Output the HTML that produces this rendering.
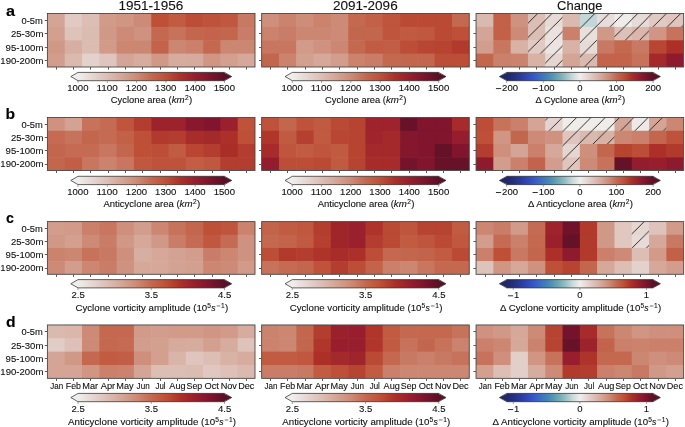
<!DOCTYPE html>
<html><head><meta charset="utf-8"><title>Figure</title><style>html,body{margin:0;padding:0;background:#fff;width:685px;height:427px;overflow:hidden}svg{display:block;will-change:transform}</style></head><body>
<svg width="685" height="427" viewBox="0 0 685 427">
<defs>
<linearGradient id="g_amp" x1="0" x2="1" y1="0" y2="0">
<stop offset="0.000" stop-color="#f0eeec"/>
<stop offset="0.025" stop-color="#ede8e6"/>
<stop offset="0.050" stop-color="#eae2df"/>
<stop offset="0.075" stop-color="#e8dcd8"/>
<stop offset="0.100" stop-color="#e5d6d2"/>
<stop offset="0.125" stop-color="#e3d0ca"/>
<stop offset="0.150" stop-color="#e0cac3"/>
<stop offset="0.175" stop-color="#dec4bc"/>
<stop offset="0.200" stop-color="#dcbeb4"/>
<stop offset="0.225" stop-color="#dab8ac"/>
<stop offset="0.250" stop-color="#d8b2a5"/>
<stop offset="0.275" stop-color="#d6ab9e"/>
<stop offset="0.300" stop-color="#d4a596"/>
<stop offset="0.325" stop-color="#d29e8e"/>
<stop offset="0.350" stop-color="#d09886"/>
<stop offset="0.375" stop-color="#cf917e"/>
<stop offset="0.400" stop-color="#cd8a76"/>
<stop offset="0.425" stop-color="#cb826d"/>
<stop offset="0.450" stop-color="#c87963"/>
<stop offset="0.475" stop-color="#c6715a"/>
<stop offset="0.500" stop-color="#c46850"/>
<stop offset="0.525" stop-color="#c2624a"/>
<stop offset="0.550" stop-color="#c15c43"/>
<stop offset="0.575" stop-color="#c0563d"/>
<stop offset="0.600" stop-color="#be5037"/>
<stop offset="0.625" stop-color="#ba4833"/>
<stop offset="0.650" stop-color="#b5402f"/>
<stop offset="0.675" stop-color="#b0382c"/>
<stop offset="0.700" stop-color="#ac3028"/>
<stop offset="0.725" stop-color="#a72c29"/>
<stop offset="0.750" stop-color="#a2272a"/>
<stop offset="0.775" stop-color="#9d222c"/>
<stop offset="0.800" stop-color="#981e2d"/>
<stop offset="0.825" stop-color="#911c2d"/>
<stop offset="0.850" stop-color="#8a192d"/>
<stop offset="0.875" stop-color="#84172d"/>
<stop offset="0.900" stop-color="#7d142d"/>
<stop offset="0.925" stop-color="#74132b"/>
<stop offset="0.950" stop-color="#6c122a"/>
<stop offset="0.975" stop-color="#631128"/>
<stop offset="1.000" stop-color="#5a1026"/>
</linearGradient>
<linearGradient id="g_bal" x1="0" x2="1" y1="0" y2="0">
<stop offset="0.000" stop-color="#202869"/>
<stop offset="0.025" stop-color="#222c74"/>
<stop offset="0.050" stop-color="#253080"/>
<stop offset="0.075" stop-color="#28368e"/>
<stop offset="0.100" stop-color="#2b3c9e"/>
<stop offset="0.125" stop-color="#2e43ae"/>
<stop offset="0.150" stop-color="#314bbc"/>
<stop offset="0.175" stop-color="#3554c8"/>
<stop offset="0.200" stop-color="#3760c6"/>
<stop offset="0.225" stop-color="#3a6cc4"/>
<stop offset="0.250" stop-color="#3f77be"/>
<stop offset="0.275" stop-color="#4382b7"/>
<stop offset="0.300" stop-color="#4e8eb5"/>
<stop offset="0.325" stop-color="#5a9bb3"/>
<stop offset="0.350" stop-color="#6ba7b5"/>
<stop offset="0.375" stop-color="#80b2bb"/>
<stop offset="0.400" stop-color="#96bec3"/>
<stop offset="0.425" stop-color="#afccce"/>
<stop offset="0.450" stop-color="#c8dada"/>
<stop offset="0.475" stop-color="#dce4e3"/>
<stop offset="0.500" stop-color="#f0eeec"/>
<stop offset="0.525" stop-color="#eae2df"/>
<stop offset="0.550" stop-color="#e5d6d2"/>
<stop offset="0.575" stop-color="#e0cac3"/>
<stop offset="0.600" stop-color="#dcbeb4"/>
<stop offset="0.625" stop-color="#d8b2a5"/>
<stop offset="0.650" stop-color="#d4a596"/>
<stop offset="0.675" stop-color="#d09786"/>
<stop offset="0.700" stop-color="#cd8a76"/>
<stop offset="0.725" stop-color="#c87963"/>
<stop offset="0.750" stop-color="#c46850"/>
<stop offset="0.775" stop-color="#c15c43"/>
<stop offset="0.800" stop-color="#be5037"/>
<stop offset="0.825" stop-color="#b54030"/>
<stop offset="0.850" stop-color="#ac3028"/>
<stop offset="0.875" stop-color="#a2272a"/>
<stop offset="0.900" stop-color="#981e2d"/>
<stop offset="0.925" stop-color="#8a192d"/>
<stop offset="0.950" stop-color="#7d142d"/>
<stop offset="0.975" stop-color="#6c122a"/>
<stop offset="1.000" stop-color="#5a1026"/>
</linearGradient>
<pattern id="hp" patternUnits="userSpaceOnUse" width="14.3" height="14.3" patternTransform="translate(7.80,0)">
<path d="M-2,2 L2,-2 M0,14.3 L14.3,0 M12.3,16.3 L16.3,12.3" stroke="#262626" stroke-width="0.95" fill="none"/>
</pattern>
</defs>
<style>text{font-family:"Liberation Sans",sans-serif;font-size:8.57px;fill:#111;stroke:#111;stroke-width:0.1px}.tk{stroke:#5a5a5a;stroke-width:1}.tc{stroke:#777;stroke-width:0.7}</style>
<rect width="685" height="427" fill="#fff"/>
<text x="118.49" y="9.95" textLength="64.74" lengthAdjust="spacingAndGlyphs" style="font-size:12.26px;">1951-1956</text>
<text x="332.96" y="9.95" textLength="64.74" lengthAdjust="spacingAndGlyphs" style="font-size:12.26px;">2091-2096</text>
<text x="557.05" y="9.95" textLength="45.48" lengthAdjust="spacingAndGlyphs" style="font-size:12.26px;">Change</text>
<text x="6.02" y="15.60" textLength="9.04" lengthAdjust="spacingAndGlyphs" style="font-weight:bold;font-size:13.80px;fill:#000;">a</text>
<text x="5.47" y="119.20" textLength="9.59" lengthAdjust="spacingAndGlyphs" style="font-weight:bold;font-size:13.80px;fill:#000;">b</text>
<text x="6.02" y="223.20" textLength="7.94" lengthAdjust="spacingAndGlyphs" style="font-weight:bold;font-size:13.80px;fill:#000;">c</text>
<text x="6.00" y="327.00" textLength="9.59" lengthAdjust="spacingAndGlyphs" style="font-weight:bold;font-size:13.80px;fill:#000;">d</text>
<rect x="47.40" y="13.50" width="17.90" height="13.97" fill="#d4a596"/>
<rect x="64.70" y="13.50" width="17.90" height="13.97" fill="#e0cac3"/>
<rect x="82.00" y="13.50" width="17.90" height="13.97" fill="#dcbeb4"/>
<rect x="99.30" y="13.50" width="17.90" height="13.97" fill="#d19a89"/>
<rect x="116.60" y="13.50" width="17.90" height="13.97" fill="#d09583"/>
<rect x="133.90" y="13.50" width="17.90" height="13.97" fill="#cd8a76"/>
<rect x="151.20" y="13.50" width="17.90" height="13.97" fill="#be5037"/>
<rect x="168.50" y="13.50" width="17.90" height="13.97" fill="#c15c43"/>
<rect x="185.80" y="13.50" width="17.90" height="13.97" fill="#bc4d36"/>
<rect x="203.10" y="13.50" width="17.90" height="13.97" fill="#bf523a"/>
<rect x="220.40" y="13.50" width="17.90" height="13.97" fill="#c0573f"/>
<rect x="237.70" y="13.50" width="17.30" height="13.97" fill="#c87963"/>
<rect x="47.40" y="26.88" width="17.90" height="13.97" fill="#d3a090"/>
<rect x="64.70" y="26.88" width="17.90" height="13.97" fill="#dec3ba"/>
<rect x="82.00" y="26.88" width="17.90" height="13.97" fill="#dbbcb1"/>
<rect x="99.30" y="26.88" width="17.90" height="13.97" fill="#d09886"/>
<rect x="116.60" y="26.88" width="17.90" height="13.97" fill="#cd8a76"/>
<rect x="133.90" y="26.88" width="17.90" height="13.97" fill="#cf9280"/>
<rect x="151.20" y="26.88" width="17.90" height="13.97" fill="#c46850"/>
<rect x="168.50" y="26.88" width="17.90" height="13.97" fill="#c7725b"/>
<rect x="185.80" y="26.88" width="17.90" height="13.97" fill="#c3664e"/>
<rect x="203.10" y="26.88" width="17.90" height="13.97" fill="#c3634b"/>
<rect x="220.40" y="26.88" width="17.90" height="13.97" fill="#c3664e"/>
<rect x="237.70" y="26.88" width="17.30" height="13.97" fill="#c97c67"/>
<rect x="47.40" y="40.25" width="17.90" height="13.97" fill="#d09886"/>
<rect x="64.70" y="40.25" width="17.90" height="13.97" fill="#d7afa2"/>
<rect x="82.00" y="40.25" width="17.90" height="13.97" fill="#dbbcb1"/>
<rect x="99.30" y="40.25" width="17.90" height="13.97" fill="#d19a89"/>
<rect x="116.60" y="40.25" width="17.90" height="13.97" fill="#cc8772"/>
<rect x="133.90" y="40.25" width="17.90" height="13.97" fill="#cc8772"/>
<rect x="151.20" y="40.25" width="17.90" height="13.97" fill="#c3634b"/>
<rect x="168.50" y="40.25" width="17.90" height="13.97" fill="#cc8772"/>
<rect x="185.80" y="40.25" width="17.90" height="13.97" fill="#ca806b"/>
<rect x="203.10" y="40.25" width="17.90" height="13.97" fill="#c46850"/>
<rect x="220.40" y="40.25" width="17.90" height="13.97" fill="#cc8772"/>
<rect x="237.70" y="40.25" width="17.30" height="13.97" fill="#cc8772"/>
<rect x="47.40" y="53.62" width="17.90" height="13.38" fill="#d29d8c"/>
<rect x="64.70" y="53.62" width="17.90" height="13.38" fill="#dab9ae"/>
<rect x="82.00" y="53.62" width="17.90" height="13.38" fill="#e3d1cc"/>
<rect x="99.30" y="53.62" width="17.90" height="13.38" fill="#dfc5bd"/>
<rect x="116.60" y="53.62" width="17.90" height="13.38" fill="#d4a596"/>
<rect x="133.90" y="53.62" width="17.90" height="13.38" fill="#d6ac9f"/>
<rect x="151.20" y="53.62" width="17.90" height="13.38" fill="#d09886"/>
<rect x="168.50" y="53.62" width="17.90" height="13.38" fill="#d6ac9f"/>
<rect x="185.80" y="53.62" width="17.90" height="13.38" fill="#d6aa9c"/>
<rect x="203.10" y="53.62" width="17.90" height="13.38" fill="#d09583"/>
<rect x="220.40" y="53.62" width="17.90" height="13.38" fill="#d3a090"/>
<rect x="237.70" y="53.62" width="17.30" height="13.38" fill="#d5a899"/>
<rect x="47.40" y="13.50" width="207.60" height="53.50" fill="none" stroke="#484848" stroke-width="0.9"/>
<line x1="44.80" y1="20.50" x2="47.40" y2="20.50" class="tk"/>
<line x1="44.80" y1="33.50" x2="47.40" y2="33.50" class="tk"/>
<line x1="44.80" y1="47.50" x2="47.40" y2="47.50" class="tk"/>
<line x1="44.80" y1="60.50" x2="47.40" y2="60.50" class="tk"/>
<line x1="56.50" y1="67.00" x2="56.50" y2="69.60" class="tk"/>
<line x1="73.50" y1="67.00" x2="73.50" y2="69.60" class="tk"/>
<line x1="90.50" y1="67.00" x2="90.50" y2="69.60" class="tk"/>
<line x1="108.50" y1="67.00" x2="108.50" y2="69.60" class="tk"/>
<line x1="125.50" y1="67.00" x2="125.50" y2="69.60" class="tk"/>
<line x1="142.50" y1="67.00" x2="142.50" y2="69.60" class="tk"/>
<line x1="160.50" y1="67.00" x2="160.50" y2="69.60" class="tk"/>
<line x1="177.50" y1="67.00" x2="177.50" y2="69.60" class="tk"/>
<line x1="194.50" y1="67.00" x2="194.50" y2="69.60" class="tk"/>
<line x1="212.50" y1="67.00" x2="212.50" y2="69.60" class="tk"/>
<line x1="229.50" y1="67.00" x2="229.50" y2="69.60" class="tk"/>
<line x1="246.50" y1="67.00" x2="246.50" y2="69.60" class="tk"/>
<rect x="261.65" y="13.50" width="17.90" height="13.97" fill="#ce8f7c"/>
<rect x="278.95" y="13.50" width="17.90" height="13.97" fill="#cb836e"/>
<rect x="296.25" y="13.50" width="17.90" height="13.97" fill="#ce8d79"/>
<rect x="313.55" y="13.50" width="17.90" height="13.97" fill="#cb836e"/>
<rect x="330.85" y="13.50" width="17.90" height="13.97" fill="#cd8a76"/>
<rect x="348.15" y="13.50" width="17.90" height="13.97" fill="#c46850"/>
<rect x="365.45" y="13.50" width="17.90" height="13.97" fill="#c26148"/>
<rect x="382.75" y="13.50" width="17.90" height="13.97" fill="#bf553c"/>
<rect x="400.05" y="13.50" width="17.90" height="13.97" fill="#ba4a34"/>
<rect x="417.35" y="13.50" width="17.90" height="13.97" fill="#ba4a34"/>
<rect x="434.65" y="13.50" width="17.90" height="13.97" fill="#ba4a34"/>
<rect x="451.95" y="13.50" width="17.30" height="13.97" fill="#c46850"/>
<rect x="261.65" y="26.88" width="17.90" height="13.97" fill="#cb836e"/>
<rect x="278.95" y="26.88" width="17.90" height="13.97" fill="#c97c67"/>
<rect x="296.25" y="26.88" width="17.90" height="13.97" fill="#cc8772"/>
<rect x="313.55" y="26.88" width="17.90" height="13.97" fill="#cc8772"/>
<rect x="330.85" y="26.88" width="17.90" height="13.97" fill="#cd8a76"/>
<rect x="348.15" y="26.88" width="17.90" height="13.97" fill="#c3664e"/>
<rect x="365.45" y="26.88" width="17.90" height="13.97" fill="#c3664e"/>
<rect x="382.75" y="26.88" width="17.90" height="13.97" fill="#bf553c"/>
<rect x="400.05" y="26.88" width="17.90" height="13.97" fill="#c05a41"/>
<rect x="417.35" y="26.88" width="17.90" height="13.97" fill="#c0573f"/>
<rect x="434.65" y="26.88" width="17.90" height="13.97" fill="#ba4a34"/>
<rect x="451.95" y="26.88" width="17.30" height="13.97" fill="#be5037"/>
<rect x="261.65" y="40.25" width="17.90" height="13.97" fill="#c8765f"/>
<rect x="278.95" y="40.25" width="17.90" height="13.97" fill="#c8765f"/>
<rect x="296.25" y="40.25" width="17.90" height="13.97" fill="#d19a89"/>
<rect x="313.55" y="40.25" width="17.90" height="13.97" fill="#cf9280"/>
<rect x="330.85" y="40.25" width="17.90" height="13.97" fill="#cc8772"/>
<rect x="348.15" y="40.25" width="17.90" height="13.97" fill="#c46850"/>
<rect x="365.45" y="40.25" width="17.90" height="13.97" fill="#c15c43"/>
<rect x="382.75" y="40.25" width="17.90" height="13.97" fill="#c25e46"/>
<rect x="400.05" y="40.25" width="17.90" height="13.97" fill="#bc4d36"/>
<rect x="417.35" y="40.25" width="17.90" height="13.97" fill="#b94632"/>
<rect x="434.65" y="40.25" width="17.90" height="13.97" fill="#b74331"/>
<rect x="451.95" y="40.25" width="17.30" height="13.97" fill="#b13a2c"/>
<rect x="261.65" y="53.62" width="17.90" height="13.38" fill="#c3664e"/>
<rect x="278.95" y="53.62" width="17.90" height="13.38" fill="#cb836e"/>
<rect x="296.25" y="53.62" width="17.90" height="13.38" fill="#d3a090"/>
<rect x="313.55" y="53.62" width="17.90" height="13.38" fill="#d5a899"/>
<rect x="330.85" y="53.62" width="17.90" height="13.38" fill="#d29d8c"/>
<rect x="348.15" y="53.62" width="17.90" height="13.38" fill="#cb836e"/>
<rect x="365.45" y="53.62" width="17.90" height="13.38" fill="#c97c67"/>
<rect x="382.75" y="53.62" width="17.90" height="13.38" fill="#c46850"/>
<rect x="400.05" y="53.62" width="17.90" height="13.38" fill="#c3664e"/>
<rect x="417.35" y="53.62" width="17.90" height="13.38" fill="#c3664e"/>
<rect x="434.65" y="53.62" width="17.90" height="13.38" fill="#bc4d36"/>
<rect x="451.95" y="53.62" width="17.30" height="13.38" fill="#bc4d36"/>
<rect x="261.65" y="13.50" width="207.60" height="53.50" fill="none" stroke="#484848" stroke-width="0.9"/>
<line x1="259.05" y1="20.50" x2="261.65" y2="20.50" class="tk"/>
<line x1="259.05" y1="33.50" x2="261.65" y2="33.50" class="tk"/>
<line x1="259.05" y1="47.50" x2="261.65" y2="47.50" class="tk"/>
<line x1="259.05" y1="60.50" x2="261.65" y2="60.50" class="tk"/>
<line x1="270.50" y1="67.00" x2="270.50" y2="69.60" class="tk"/>
<line x1="287.50" y1="67.00" x2="287.50" y2="69.60" class="tk"/>
<line x1="305.50" y1="67.00" x2="305.50" y2="69.60" class="tk"/>
<line x1="322.50" y1="67.00" x2="322.50" y2="69.60" class="tk"/>
<line x1="339.50" y1="67.00" x2="339.50" y2="69.60" class="tk"/>
<line x1="357.50" y1="67.00" x2="357.50" y2="69.60" class="tk"/>
<line x1="374.50" y1="67.00" x2="374.50" y2="69.60" class="tk"/>
<line x1="391.50" y1="67.00" x2="391.50" y2="69.60" class="tk"/>
<line x1="409.50" y1="67.00" x2="409.50" y2="69.60" class="tk"/>
<line x1="426.50" y1="67.00" x2="426.50" y2="69.60" class="tk"/>
<line x1="443.50" y1="67.00" x2="443.50" y2="69.60" class="tk"/>
<line x1="460.50" y1="67.00" x2="460.50" y2="69.60" class="tk"/>
<rect x="476.05" y="13.50" width="17.90" height="13.97" fill="#dab9ae"/>
<rect x="493.35" y="13.50" width="17.90" height="13.97" fill="#c26148"/>
<rect x="510.65" y="13.50" width="17.90" height="13.97" fill="#cf9280"/>
<rect x="527.95" y="13.50" width="17.90" height="13.97" fill="#dcbeb4"/>
<rect x="545.25" y="13.50" width="17.90" height="13.97" fill="#e7dbd7"/>
<rect x="562.55" y="13.50" width="17.90" height="13.97" fill="#dab9ae"/>
<rect x="579.85" y="13.50" width="17.90" height="13.97" fill="#c3d7d8"/>
<rect x="597.15" y="13.50" width="17.90" height="13.97" fill="#e8ddda"/>
<rect x="614.45" y="13.50" width="17.90" height="13.97" fill="#efece9"/>
<rect x="631.75" y="13.50" width="17.90" height="13.97" fill="#e7dbd7"/>
<rect x="649.05" y="13.50" width="17.90" height="13.97" fill="#e0cac3"/>
<rect x="666.35" y="13.50" width="17.30" height="13.97" fill="#dfc5bd"/>
<rect x="476.05" y="26.88" width="17.90" height="13.97" fill="#d4a596"/>
<rect x="493.35" y="26.88" width="17.90" height="13.97" fill="#c26148"/>
<rect x="510.65" y="26.88" width="17.90" height="13.97" fill="#cd8a76"/>
<rect x="527.95" y="26.88" width="17.90" height="13.97" fill="#dcbeb4"/>
<rect x="545.25" y="26.88" width="17.90" height="13.97" fill="#eae2df"/>
<rect x="562.55" y="26.88" width="17.90" height="13.97" fill="#ca806b"/>
<rect x="579.85" y="26.88" width="17.90" height="13.97" fill="#e9e0dc"/>
<rect x="597.15" y="26.88" width="17.90" height="13.97" fill="#d09886"/>
<rect x="614.45" y="26.88" width="17.90" height="13.97" fill="#ddc0b7"/>
<rect x="631.75" y="26.88" width="17.90" height="13.97" fill="#dab6ab"/>
<rect x="649.05" y="26.88" width="17.90" height="13.97" fill="#d09583"/>
<rect x="666.35" y="26.88" width="17.30" height="13.97" fill="#c7725b"/>
<rect x="476.05" y="40.25" width="17.90" height="13.97" fill="#d29d8c"/>
<rect x="493.35" y="40.25" width="17.90" height="13.97" fill="#c8765f"/>
<rect x="510.65" y="40.25" width="17.90" height="13.97" fill="#d8b2a5"/>
<rect x="527.95" y="40.25" width="17.90" height="13.97" fill="#e0cac3"/>
<rect x="545.25" y="40.25" width="17.90" height="13.97" fill="#ece4e2"/>
<rect x="562.55" y="40.25" width="17.90" height="13.97" fill="#d8b2a5"/>
<rect x="579.85" y="40.25" width="17.90" height="13.97" fill="#e7dbd7"/>
<rect x="597.15" y="40.25" width="17.90" height="13.97" fill="#c87963"/>
<rect x="614.45" y="40.25" width="17.90" height="13.97" fill="#c46850"/>
<rect x="631.75" y="40.25" width="17.90" height="13.97" fill="#c87963"/>
<rect x="649.05" y="40.25" width="17.90" height="13.97" fill="#b94632"/>
<rect x="666.35" y="40.25" width="17.30" height="13.97" fill="#ac3028"/>
<rect x="476.05" y="53.62" width="17.90" height="13.38" fill="#c3664e"/>
<rect x="493.35" y="53.62" width="17.90" height="13.38" fill="#ca806b"/>
<rect x="510.65" y="53.62" width="17.90" height="13.38" fill="#cb836e"/>
<rect x="527.95" y="53.62" width="17.90" height="13.38" fill="#d8b2a5"/>
<rect x="545.25" y="53.62" width="17.90" height="13.38" fill="#e5d6d2"/>
<rect x="562.55" y="53.62" width="17.90" height="13.38" fill="#d4a596"/>
<rect x="579.85" y="53.62" width="17.90" height="13.38" fill="#dab9ae"/>
<rect x="597.15" y="53.62" width="17.90" height="13.38" fill="#c3634b"/>
<rect x="614.45" y="53.62" width="17.90" height="13.38" fill="#c3634b"/>
<rect x="631.75" y="53.62" width="17.90" height="13.38" fill="#c7725b"/>
<rect x="649.05" y="53.62" width="17.90" height="13.38" fill="#a4292a"/>
<rect x="666.35" y="53.62" width="17.30" height="13.38" fill="#8d1a2d"/>
<rect x="527.95" y="13.50" width="17.30" height="13.38" fill="url(#hp)"/>
<rect x="545.25" y="13.50" width="17.30" height="13.38" fill="url(#hp)"/>
<rect x="579.85" y="13.50" width="17.30" height="13.38" fill="url(#hp)"/>
<rect x="597.15" y="13.50" width="17.30" height="13.38" fill="url(#hp)"/>
<rect x="614.45" y="13.50" width="17.30" height="13.38" fill="url(#hp)"/>
<rect x="631.75" y="13.50" width="17.30" height="13.38" fill="url(#hp)"/>
<rect x="649.05" y="13.50" width="17.30" height="13.38" fill="url(#hp)"/>
<rect x="666.35" y="13.50" width="17.30" height="13.38" fill="url(#hp)"/>
<rect x="527.95" y="26.88" width="17.30" height="13.38" fill="url(#hp)"/>
<rect x="545.25" y="26.88" width="17.30" height="13.38" fill="url(#hp)"/>
<rect x="579.85" y="26.88" width="17.30" height="13.38" fill="url(#hp)"/>
<rect x="614.45" y="26.88" width="17.30" height="13.38" fill="url(#hp)"/>
<rect x="631.75" y="26.88" width="17.30" height="13.38" fill="url(#hp)"/>
<rect x="527.95" y="40.25" width="17.30" height="13.38" fill="url(#hp)"/>
<rect x="545.25" y="40.25" width="17.30" height="13.38" fill="url(#hp)"/>
<rect x="579.85" y="40.25" width="17.30" height="13.38" fill="url(#hp)"/>
<rect x="545.25" y="53.62" width="17.30" height="13.38" fill="url(#hp)"/>
<rect x="579.85" y="53.62" width="17.30" height="13.38" fill="url(#hp)"/>
<rect x="476.05" y="13.50" width="207.60" height="53.50" fill="none" stroke="#484848" stroke-width="0.9"/>
<line x1="473.45" y1="20.50" x2="476.05" y2="20.50" class="tk"/>
<line x1="473.45" y1="33.50" x2="476.05" y2="33.50" class="tk"/>
<line x1="473.45" y1="47.50" x2="476.05" y2="47.50" class="tk"/>
<line x1="473.45" y1="60.50" x2="476.05" y2="60.50" class="tk"/>
<line x1="485.50" y1="67.00" x2="485.50" y2="69.60" class="tk"/>
<line x1="502.50" y1="67.00" x2="502.50" y2="69.60" class="tk"/>
<line x1="519.50" y1="67.00" x2="519.50" y2="69.60" class="tk"/>
<line x1="536.50" y1="67.00" x2="536.50" y2="69.60" class="tk"/>
<line x1="554.50" y1="67.00" x2="554.50" y2="69.60" class="tk"/>
<line x1="571.50" y1="67.00" x2="571.50" y2="69.60" class="tk"/>
<line x1="588.50" y1="67.00" x2="588.50" y2="69.60" class="tk"/>
<line x1="606.50" y1="67.00" x2="606.50" y2="69.60" class="tk"/>
<line x1="623.50" y1="67.00" x2="623.50" y2="69.60" class="tk"/>
<line x1="640.50" y1="67.00" x2="640.50" y2="69.60" class="tk"/>
<line x1="658.50" y1="67.00" x2="658.50" y2="69.60" class="tk"/>
<line x1="675.50" y1="67.00" x2="675.50" y2="69.60" class="tk"/>
<text x="21.51" y="23.79" textLength="21.28" lengthAdjust="spacingAndGlyphs">0-5m</text>
<text x="10.93" y="37.16" textLength="32.44" lengthAdjust="spacingAndGlyphs">25-30m</text>
<text x="5.63" y="50.54" textLength="37.77" lengthAdjust="spacingAndGlyphs">95-100m</text>
<text x="0.34" y="63.91" textLength="43.10" lengthAdjust="spacingAndGlyphs">190-200m</text>
<polygon points="79.00,72.40 70.80,76.55 79.00,80.70" fill="#f0eeec"/>
<polygon points="223.50,72.40 231.70,76.55 223.50,80.70" fill="#5a1026"/>
<rect x="78.00" y="72.40" width="146.50" height="8.30" fill="url(#g_amp)"/>
<polygon points="78.00,72.40 224.50,72.40 231.70,76.55 224.50,80.70 78.00,80.70 70.80,76.55" fill="none" stroke="#222" stroke-width="0.7" stroke-linejoin="miter"/>
<line x1="78.00" y1="80.70" x2="78.00" y2="82.90" class="tc"/>
<text x="67.23" y="91.15" textLength="21.28" lengthAdjust="spacingAndGlyphs">1000</text>
<line x1="107.30" y1="80.70" x2="107.30" y2="82.90" class="tc"/>
<text x="96.53" y="91.15" textLength="21.28" lengthAdjust="spacingAndGlyphs">1100</text>
<line x1="136.60" y1="80.70" x2="136.60" y2="82.90" class="tc"/>
<text x="125.83" y="91.15" textLength="21.28" lengthAdjust="spacingAndGlyphs">1200</text>
<line x1="165.90" y1="80.70" x2="165.90" y2="82.90" class="tc"/>
<text x="155.13" y="91.15" textLength="21.28" lengthAdjust="spacingAndGlyphs">1300</text>
<line x1="195.20" y1="80.70" x2="195.20" y2="82.90" class="tc"/>
<text x="184.43" y="91.15" textLength="21.28" lengthAdjust="spacingAndGlyphs">1400</text>
<line x1="224.50" y1="80.70" x2="224.50" y2="82.90" class="tc"/>
<text x="213.73" y="91.15" textLength="21.28" lengthAdjust="spacingAndGlyphs">1500</text>
<text x="110.89" y="103.40" textLength="60.75" lengthAdjust="spacingAndGlyphs">Cyclone area (</text>
<text x="171.67" y="103.40" textLength="12.95" lengthAdjust="spacingAndGlyphs" style="font-style:italic;">km</text>
<text x="185.05" y="100.34" textLength="3.71" lengthAdjust="spacingAndGlyphs" style="font-size:6.60px;">2</text>
<text x="188.99" y="103.40" textLength="3.25" lengthAdjust="spacingAndGlyphs">)</text>
<polygon points="293.25,72.40 285.05,76.55 293.25,80.70" fill="#f0eeec"/>
<polygon points="437.75,72.40 445.95,76.55 437.75,80.70" fill="#5a1026"/>
<rect x="292.25" y="72.40" width="146.50" height="8.30" fill="url(#g_amp)"/>
<polygon points="292.25,72.40 438.75,72.40 445.95,76.55 438.75,80.70 292.25,80.70 285.05,76.55" fill="none" stroke="#222" stroke-width="0.7" stroke-linejoin="miter"/>
<line x1="292.25" y1="80.70" x2="292.25" y2="82.90" class="tc"/>
<text x="281.48" y="91.15" textLength="21.28" lengthAdjust="spacingAndGlyphs">1000</text>
<line x1="321.55" y1="80.70" x2="321.55" y2="82.90" class="tc"/>
<text x="310.78" y="91.15" textLength="21.28" lengthAdjust="spacingAndGlyphs">1100</text>
<line x1="350.85" y1="80.70" x2="350.85" y2="82.90" class="tc"/>
<text x="340.08" y="91.15" textLength="21.28" lengthAdjust="spacingAndGlyphs">1200</text>
<line x1="380.15" y1="80.70" x2="380.15" y2="82.90" class="tc"/>
<text x="369.38" y="91.15" textLength="21.28" lengthAdjust="spacingAndGlyphs">1300</text>
<line x1="409.45" y1="80.70" x2="409.45" y2="82.90" class="tc"/>
<text x="398.68" y="91.15" textLength="21.28" lengthAdjust="spacingAndGlyphs">1400</text>
<line x1="438.75" y1="80.70" x2="438.75" y2="82.90" class="tc"/>
<text x="427.98" y="91.15" textLength="21.28" lengthAdjust="spacingAndGlyphs">1500</text>
<text x="325.14" y="103.40" textLength="60.75" lengthAdjust="spacingAndGlyphs">Cyclone area (</text>
<text x="385.92" y="103.40" textLength="12.95" lengthAdjust="spacingAndGlyphs" style="font-style:italic;">km</text>
<text x="399.30" y="100.34" textLength="3.71" lengthAdjust="spacingAndGlyphs" style="font-size:6.60px;">2</text>
<text x="403.24" y="103.40" textLength="3.25" lengthAdjust="spacingAndGlyphs">)</text>
<polygon points="507.65,72.40 499.45,76.55 507.65,80.70" fill="#202869"/>
<polygon points="652.15,72.40 660.35,76.55 652.15,80.70" fill="#5a1026"/>
<rect x="506.65" y="72.40" width="146.50" height="8.30" fill="url(#g_bal)"/>
<polygon points="506.65,72.40 653.15,72.40 660.35,76.55 653.15,80.70 506.65,80.70 499.45,76.55" fill="none" stroke="#222" stroke-width="0.7" stroke-linejoin="miter"/>
<line x1="506.65" y1="80.70" x2="506.65" y2="82.90" class="tc"/>
<rect x="495.94" y="88.20" width="5.21" height="0.86" fill="#111"/>
<text x="502.08" y="91.15" textLength="15.95" lengthAdjust="spacingAndGlyphs">200</text>
<line x1="543.28" y1="80.70" x2="543.28" y2="82.90" class="tc"/>
<rect x="532.57" y="88.20" width="5.21" height="0.86" fill="#111"/>
<text x="538.70" y="91.15" textLength="15.95" lengthAdjust="spacingAndGlyphs">100</text>
<line x1="579.90" y1="80.70" x2="579.90" y2="82.90" class="tc"/>
<text x="577.26" y="91.15" textLength="5.29" lengthAdjust="spacingAndGlyphs">0</text>
<line x1="616.53" y1="80.70" x2="616.53" y2="82.90" class="tc"/>
<text x="608.40" y="91.15" textLength="15.95" lengthAdjust="spacingAndGlyphs">100</text>
<line x1="653.15" y1="80.70" x2="653.15" y2="82.90" class="tc"/>
<text x="645.18" y="91.15" textLength="15.95" lengthAdjust="spacingAndGlyphs">200</text>
<text x="535.58" y="103.40" textLength="69.14" lengthAdjust="spacingAndGlyphs">Δ Cyclone area (</text>
<text x="604.74" y="103.40" textLength="12.95" lengthAdjust="spacingAndGlyphs" style="font-style:italic;">km</text>
<text x="618.12" y="100.34" textLength="3.71" lengthAdjust="spacingAndGlyphs" style="font-size:6.60px;">2</text>
<text x="622.07" y="103.40" textLength="3.25" lengthAdjust="spacingAndGlyphs">)</text>
<rect x="47.40" y="117.50" width="17.90" height="13.85" fill="#cf9280"/>
<rect x="64.70" y="117.50" width="17.90" height="13.85" fill="#d3a293"/>
<rect x="82.00" y="117.50" width="17.90" height="13.85" fill="#c7725b"/>
<rect x="99.30" y="117.50" width="17.90" height="13.85" fill="#c56b54"/>
<rect x="116.60" y="117.50" width="17.90" height="13.85" fill="#bf553c"/>
<rect x="133.90" y="117.50" width="17.90" height="13.85" fill="#b33d2e"/>
<rect x="151.20" y="117.50" width="17.90" height="13.85" fill="#9c222c"/>
<rect x="168.50" y="117.50" width="17.90" height="13.85" fill="#9c222c"/>
<rect x="185.80" y="117.50" width="17.90" height="13.85" fill="#88182d"/>
<rect x="203.10" y="117.50" width="17.90" height="13.85" fill="#80152d"/>
<rect x="220.40" y="117.50" width="17.90" height="13.85" fill="#9a202c"/>
<rect x="237.70" y="117.50" width="17.30" height="13.85" fill="#bf523a"/>
<rect x="47.40" y="130.75" width="17.90" height="13.85" fill="#c56b54"/>
<rect x="64.70" y="130.75" width="17.90" height="13.85" fill="#c7725b"/>
<rect x="82.00" y="130.75" width="17.90" height="13.85" fill="#c3664e"/>
<rect x="99.30" y="130.75" width="17.90" height="13.85" fill="#c56b54"/>
<rect x="116.60" y="130.75" width="17.90" height="13.85" fill="#c26148"/>
<rect x="133.90" y="130.75" width="17.90" height="13.85" fill="#be5037"/>
<rect x="151.20" y="130.75" width="17.90" height="13.85" fill="#b13a2c"/>
<rect x="168.50" y="130.75" width="17.90" height="13.85" fill="#b33d2e"/>
<rect x="185.80" y="130.75" width="17.90" height="13.85" fill="#a82c29"/>
<rect x="203.10" y="130.75" width="17.90" height="13.85" fill="#a4292a"/>
<rect x="220.40" y="130.75" width="17.90" height="13.85" fill="#ac3028"/>
<rect x="237.70" y="130.75" width="17.30" height="13.85" fill="#be5037"/>
<rect x="47.40" y="144.00" width="17.90" height="13.85" fill="#c3664e"/>
<rect x="64.70" y="144.00" width="17.90" height="13.85" fill="#c56b54"/>
<rect x="82.00" y="144.00" width="17.90" height="13.85" fill="#c56b54"/>
<rect x="99.30" y="144.00" width="17.90" height="13.85" fill="#c8765f"/>
<rect x="116.60" y="144.00" width="17.90" height="13.85" fill="#c3664e"/>
<rect x="133.90" y="144.00" width="17.90" height="13.85" fill="#be5037"/>
<rect x="151.20" y="144.00" width="17.90" height="13.85" fill="#bc4d36"/>
<rect x="168.50" y="144.00" width="17.90" height="13.85" fill="#c15c43"/>
<rect x="185.80" y="144.00" width="17.90" height="13.85" fill="#b94632"/>
<rect x="203.10" y="144.00" width="17.90" height="13.85" fill="#b33d2e"/>
<rect x="220.40" y="144.00" width="17.90" height="13.85" fill="#aa2e28"/>
<rect x="237.70" y="144.00" width="17.30" height="13.85" fill="#b33d2e"/>
<rect x="47.40" y="157.25" width="17.90" height="13.25" fill="#c3664e"/>
<rect x="64.70" y="157.25" width="17.90" height="13.25" fill="#c25e46"/>
<rect x="82.00" y="157.25" width="17.90" height="13.25" fill="#c8765f"/>
<rect x="99.30" y="157.25" width="17.90" height="13.25" fill="#cb836e"/>
<rect x="116.60" y="157.25" width="17.90" height="13.25" fill="#c8765f"/>
<rect x="133.90" y="157.25" width="17.90" height="13.25" fill="#c0573f"/>
<rect x="151.20" y="157.25" width="17.90" height="13.25" fill="#bf523a"/>
<rect x="168.50" y="157.25" width="17.90" height="13.25" fill="#bf523a"/>
<rect x="185.80" y="157.25" width="17.90" height="13.25" fill="#c25e46"/>
<rect x="203.10" y="157.25" width="17.90" height="13.25" fill="#c0573f"/>
<rect x="220.40" y="157.25" width="17.90" height="13.25" fill="#b33d2e"/>
<rect x="237.70" y="157.25" width="17.30" height="13.25" fill="#b33d2e"/>
<rect x="47.40" y="117.50" width="207.60" height="53.00" fill="none" stroke="#484848" stroke-width="0.9"/>
<line x1="44.80" y1="124.50" x2="47.40" y2="124.50" class="tk"/>
<line x1="44.80" y1="137.50" x2="47.40" y2="137.50" class="tk"/>
<line x1="44.80" y1="150.50" x2="47.40" y2="150.50" class="tk"/>
<line x1="44.80" y1="164.50" x2="47.40" y2="164.50" class="tk"/>
<line x1="56.50" y1="170.50" x2="56.50" y2="173.10" class="tk"/>
<line x1="73.50" y1="170.50" x2="73.50" y2="173.10" class="tk"/>
<line x1="90.50" y1="170.50" x2="90.50" y2="173.10" class="tk"/>
<line x1="108.50" y1="170.50" x2="108.50" y2="173.10" class="tk"/>
<line x1="125.50" y1="170.50" x2="125.50" y2="173.10" class="tk"/>
<line x1="142.50" y1="170.50" x2="142.50" y2="173.10" class="tk"/>
<line x1="160.50" y1="170.50" x2="160.50" y2="173.10" class="tk"/>
<line x1="177.50" y1="170.50" x2="177.50" y2="173.10" class="tk"/>
<line x1="194.50" y1="170.50" x2="194.50" y2="173.10" class="tk"/>
<line x1="212.50" y1="170.50" x2="212.50" y2="173.10" class="tk"/>
<line x1="229.50" y1="170.50" x2="229.50" y2="173.10" class="tk"/>
<line x1="246.50" y1="170.50" x2="246.50" y2="173.10" class="tk"/>
<rect x="261.65" y="117.50" width="17.90" height="13.85" fill="#bf523a"/>
<rect x="278.95" y="117.50" width="17.90" height="13.85" fill="#c3664e"/>
<rect x="296.25" y="117.50" width="17.90" height="13.85" fill="#bf523a"/>
<rect x="313.55" y="117.50" width="17.90" height="13.85" fill="#c05a41"/>
<rect x="330.85" y="117.50" width="17.90" height="13.85" fill="#ba4a34"/>
<rect x="348.15" y="117.50" width="17.90" height="13.85" fill="#b74331"/>
<rect x="365.45" y="117.50" width="17.90" height="13.85" fill="#9e232c"/>
<rect x="382.75" y="117.50" width="17.90" height="13.85" fill="#9e232c"/>
<rect x="400.05" y="117.50" width="17.90" height="13.85" fill="#681229"/>
<rect x="417.35" y="117.50" width="17.90" height="13.85" fill="#80152d"/>
<rect x="434.65" y="117.50" width="17.90" height="13.85" fill="#80152d"/>
<rect x="451.95" y="117.50" width="17.30" height="13.85" fill="#a62b2a"/>
<rect x="261.65" y="130.75" width="17.90" height="13.85" fill="#b0362b"/>
<rect x="278.95" y="130.75" width="17.90" height="13.85" fill="#c05a41"/>
<rect x="296.25" y="130.75" width="17.90" height="13.85" fill="#b5402f"/>
<rect x="313.55" y="130.75" width="17.90" height="13.85" fill="#c05a41"/>
<rect x="330.85" y="130.75" width="17.90" height="13.85" fill="#b94632"/>
<rect x="348.15" y="130.75" width="17.90" height="13.85" fill="#b74331"/>
<rect x="365.45" y="130.75" width="17.90" height="13.85" fill="#a0252b"/>
<rect x="382.75" y="130.75" width="17.90" height="13.85" fill="#a4292a"/>
<rect x="400.05" y="130.75" width="17.90" height="13.85" fill="#85172d"/>
<rect x="417.35" y="130.75" width="17.90" height="13.85" fill="#80152d"/>
<rect x="434.65" y="130.75" width="17.90" height="13.85" fill="#80152d"/>
<rect x="451.95" y="130.75" width="17.30" height="13.85" fill="#951d2d"/>
<rect x="261.65" y="144.00" width="17.90" height="13.85" fill="#a62b2a"/>
<rect x="278.95" y="144.00" width="17.90" height="13.85" fill="#bf553c"/>
<rect x="296.25" y="144.00" width="17.90" height="13.85" fill="#c15c43"/>
<rect x="313.55" y="144.00" width="17.90" height="13.85" fill="#bf553c"/>
<rect x="330.85" y="144.00" width="17.90" height="13.85" fill="#c05a41"/>
<rect x="348.15" y="144.00" width="17.90" height="13.85" fill="#b74331"/>
<rect x="365.45" y="144.00" width="17.90" height="13.85" fill="#a4292a"/>
<rect x="382.75" y="144.00" width="17.90" height="13.85" fill="#a4292a"/>
<rect x="400.05" y="144.00" width="17.90" height="13.85" fill="#85172d"/>
<rect x="417.35" y="144.00" width="17.90" height="13.85" fill="#80152d"/>
<rect x="434.65" y="144.00" width="17.90" height="13.85" fill="#651128"/>
<rect x="451.95" y="144.00" width="17.30" height="13.85" fill="#80152d"/>
<rect x="261.65" y="157.25" width="17.90" height="13.25" fill="#931c2d"/>
<rect x="278.95" y="157.25" width="17.90" height="13.25" fill="#bc4d36"/>
<rect x="296.25" y="157.25" width="17.90" height="13.25" fill="#bc4d36"/>
<rect x="313.55" y="157.25" width="17.90" height="13.25" fill="#ba4a34"/>
<rect x="330.85" y="157.25" width="17.90" height="13.25" fill="#c05a41"/>
<rect x="348.15" y="157.25" width="17.90" height="13.25" fill="#b74331"/>
<rect x="365.45" y="157.25" width="17.90" height="13.25" fill="#a62b2a"/>
<rect x="382.75" y="157.25" width="17.90" height="13.25" fill="#a62b2a"/>
<rect x="400.05" y="157.25" width="17.90" height="13.25" fill="#76132c"/>
<rect x="417.35" y="157.25" width="17.90" height="13.25" fill="#80152d"/>
<rect x="434.65" y="157.25" width="17.90" height="13.25" fill="#681229"/>
<rect x="451.95" y="157.25" width="17.30" height="13.25" fill="#681229"/>
<rect x="261.65" y="117.50" width="207.60" height="53.00" fill="none" stroke="#484848" stroke-width="0.9"/>
<line x1="259.05" y1="124.50" x2="261.65" y2="124.50" class="tk"/>
<line x1="259.05" y1="137.50" x2="261.65" y2="137.50" class="tk"/>
<line x1="259.05" y1="150.50" x2="261.65" y2="150.50" class="tk"/>
<line x1="259.05" y1="164.50" x2="261.65" y2="164.50" class="tk"/>
<line x1="270.50" y1="170.50" x2="270.50" y2="173.10" class="tk"/>
<line x1="287.50" y1="170.50" x2="287.50" y2="173.10" class="tk"/>
<line x1="305.50" y1="170.50" x2="305.50" y2="173.10" class="tk"/>
<line x1="322.50" y1="170.50" x2="322.50" y2="173.10" class="tk"/>
<line x1="339.50" y1="170.50" x2="339.50" y2="173.10" class="tk"/>
<line x1="357.50" y1="170.50" x2="357.50" y2="173.10" class="tk"/>
<line x1="374.50" y1="170.50" x2="374.50" y2="173.10" class="tk"/>
<line x1="391.50" y1="170.50" x2="391.50" y2="173.10" class="tk"/>
<line x1="409.50" y1="170.50" x2="409.50" y2="173.10" class="tk"/>
<line x1="426.50" y1="170.50" x2="426.50" y2="173.10" class="tk"/>
<line x1="443.50" y1="170.50" x2="443.50" y2="173.10" class="tk"/>
<line x1="460.50" y1="170.50" x2="460.50" y2="173.10" class="tk"/>
<rect x="476.05" y="117.50" width="17.90" height="13.85" fill="#bc4d36"/>
<rect x="493.35" y="117.50" width="17.90" height="13.85" fill="#c7725b"/>
<rect x="510.65" y="117.50" width="17.90" height="13.85" fill="#ca806b"/>
<rect x="527.95" y="117.50" width="17.90" height="13.85" fill="#d4a596"/>
<rect x="545.25" y="117.50" width="17.90" height="13.85" fill="#e4d4cf"/>
<rect x="562.55" y="117.50" width="17.90" height="13.85" fill="#efece9"/>
<rect x="579.85" y="117.50" width="17.90" height="13.85" fill="#efece9"/>
<rect x="597.15" y="117.50" width="17.90" height="13.85" fill="#efece9"/>
<rect x="614.45" y="117.50" width="17.90" height="13.85" fill="#d4a596"/>
<rect x="631.75" y="117.50" width="17.90" height="13.85" fill="#eee9e7"/>
<rect x="649.05" y="117.50" width="17.90" height="13.85" fill="#d4a596"/>
<rect x="666.35" y="117.50" width="17.30" height="13.85" fill="#cc8772"/>
<rect x="476.05" y="130.75" width="17.90" height="13.85" fill="#be5037"/>
<rect x="493.35" y="130.75" width="17.90" height="13.85" fill="#d09583"/>
<rect x="510.65" y="130.75" width="17.90" height="13.85" fill="#c3664e"/>
<rect x="527.95" y="130.75" width="17.90" height="13.85" fill="#cd8a76"/>
<rect x="545.25" y="130.75" width="17.90" height="13.85" fill="#cf9280"/>
<rect x="562.55" y="130.75" width="17.90" height="13.85" fill="#dfc5bd"/>
<rect x="579.85" y="130.75" width="17.90" height="13.85" fill="#dab9ae"/>
<rect x="597.15" y="130.75" width="17.90" height="13.85" fill="#d8b2a5"/>
<rect x="614.45" y="130.75" width="17.90" height="13.85" fill="#cc8772"/>
<rect x="631.75" y="130.75" width="17.90" height="13.85" fill="#ca806b"/>
<rect x="649.05" y="130.75" width="17.90" height="13.85" fill="#c3664e"/>
<rect x="666.35" y="130.75" width="17.30" height="13.85" fill="#bf523a"/>
<rect x="476.05" y="144.00" width="17.90" height="13.85" fill="#b33d2e"/>
<rect x="493.35" y="144.00" width="17.90" height="13.85" fill="#ce8f7c"/>
<rect x="510.65" y="144.00" width="17.90" height="13.85" fill="#d4a596"/>
<rect x="527.95" y="144.00" width="17.90" height="13.85" fill="#ca806b"/>
<rect x="545.25" y="144.00" width="17.90" height="13.85" fill="#d5a899"/>
<rect x="562.55" y="144.00" width="17.90" height="13.85" fill="#e5d6d2"/>
<rect x="579.85" y="144.00" width="17.90" height="13.85" fill="#ce8f7c"/>
<rect x="597.15" y="144.00" width="17.90" height="13.85" fill="#c3664e"/>
<rect x="614.45" y="144.00" width="17.90" height="13.85" fill="#b74331"/>
<rect x="631.75" y="144.00" width="17.90" height="13.85" fill="#bc4d36"/>
<rect x="649.05" y="144.00" width="17.90" height="13.85" fill="#ac3028"/>
<rect x="666.35" y="144.00" width="17.30" height="13.85" fill="#b13a2c"/>
<rect x="476.05" y="157.25" width="17.90" height="13.25" fill="#8d1a2d"/>
<rect x="493.35" y="157.25" width="17.90" height="13.25" fill="#d29d8c"/>
<rect x="510.65" y="157.25" width="17.90" height="13.25" fill="#ca806b"/>
<rect x="527.95" y="157.25" width="17.90" height="13.25" fill="#c3634b"/>
<rect x="545.25" y="157.25" width="17.90" height="13.25" fill="#d29d8c"/>
<rect x="562.55" y="157.25" width="17.90" height="13.25" fill="#dfc5bd"/>
<rect x="579.85" y="157.25" width="17.90" height="13.25" fill="#cd8a76"/>
<rect x="597.15" y="157.25" width="17.90" height="13.25" fill="#c7725b"/>
<rect x="614.45" y="157.25" width="17.90" height="13.25" fill="#651128"/>
<rect x="631.75" y="157.25" width="17.90" height="13.25" fill="#931c2d"/>
<rect x="649.05" y="157.25" width="17.90" height="13.25" fill="#981e2d"/>
<rect x="666.35" y="157.25" width="17.30" height="13.25" fill="#8d1a2d"/>
<rect x="545.25" y="117.50" width="17.30" height="13.25" fill="url(#hp)"/>
<rect x="562.55" y="117.50" width="17.30" height="13.25" fill="url(#hp)"/>
<rect x="579.85" y="117.50" width="17.30" height="13.25" fill="url(#hp)"/>
<rect x="597.15" y="117.50" width="17.30" height="13.25" fill="url(#hp)"/>
<rect x="614.45" y="117.50" width="17.30" height="13.25" fill="url(#hp)"/>
<rect x="631.75" y="117.50" width="17.30" height="13.25" fill="url(#hp)"/>
<rect x="649.05" y="117.50" width="17.30" height="13.25" fill="url(#hp)"/>
<rect x="562.55" y="130.75" width="17.30" height="13.25" fill="url(#hp)"/>
<rect x="579.85" y="130.75" width="17.30" height="13.25" fill="url(#hp)"/>
<rect x="597.15" y="130.75" width="17.30" height="13.25" fill="url(#hp)"/>
<rect x="562.55" y="144.00" width="17.30" height="13.25" fill="url(#hp)"/>
<rect x="562.55" y="157.25" width="17.30" height="13.25" fill="url(#hp)"/>
<rect x="476.05" y="117.50" width="207.60" height="53.00" fill="none" stroke="#484848" stroke-width="0.9"/>
<line x1="473.45" y1="124.50" x2="476.05" y2="124.50" class="tk"/>
<line x1="473.45" y1="137.50" x2="476.05" y2="137.50" class="tk"/>
<line x1="473.45" y1="150.50" x2="476.05" y2="150.50" class="tk"/>
<line x1="473.45" y1="164.50" x2="476.05" y2="164.50" class="tk"/>
<line x1="485.50" y1="170.50" x2="485.50" y2="173.10" class="tk"/>
<line x1="502.50" y1="170.50" x2="502.50" y2="173.10" class="tk"/>
<line x1="519.50" y1="170.50" x2="519.50" y2="173.10" class="tk"/>
<line x1="536.50" y1="170.50" x2="536.50" y2="173.10" class="tk"/>
<line x1="554.50" y1="170.50" x2="554.50" y2="173.10" class="tk"/>
<line x1="571.50" y1="170.50" x2="571.50" y2="173.10" class="tk"/>
<line x1="588.50" y1="170.50" x2="588.50" y2="173.10" class="tk"/>
<line x1="606.50" y1="170.50" x2="606.50" y2="173.10" class="tk"/>
<line x1="623.50" y1="170.50" x2="623.50" y2="173.10" class="tk"/>
<line x1="640.50" y1="170.50" x2="640.50" y2="173.10" class="tk"/>
<line x1="658.50" y1="170.50" x2="658.50" y2="173.10" class="tk"/>
<line x1="675.50" y1="170.50" x2="675.50" y2="173.10" class="tk"/>
<text x="21.51" y="127.73" textLength="21.28" lengthAdjust="spacingAndGlyphs">0-5m</text>
<text x="10.93" y="140.98" textLength="32.44" lengthAdjust="spacingAndGlyphs">25-30m</text>
<text x="5.63" y="154.23" textLength="37.77" lengthAdjust="spacingAndGlyphs">95-100m</text>
<text x="0.34" y="167.48" textLength="43.10" lengthAdjust="spacingAndGlyphs">190-200m</text>
<polygon points="79.00,176.30 70.80,180.45 79.00,184.60" fill="#f0eeec"/>
<polygon points="223.50,176.30 231.70,180.45 223.50,184.60" fill="#5a1026"/>
<rect x="78.00" y="176.30" width="146.50" height="8.30" fill="url(#g_amp)"/>
<polygon points="78.00,176.30 224.50,176.30 231.70,180.45 224.50,184.60 78.00,184.60 70.80,180.45" fill="none" stroke="#222" stroke-width="0.7" stroke-linejoin="miter"/>
<line x1="78.00" y1="184.60" x2="78.00" y2="186.80" class="tc"/>
<text x="67.23" y="195.05" textLength="21.28" lengthAdjust="spacingAndGlyphs">1000</text>
<line x1="107.30" y1="184.60" x2="107.30" y2="186.80" class="tc"/>
<text x="96.53" y="195.05" textLength="21.28" lengthAdjust="spacingAndGlyphs">1100</text>
<line x1="136.60" y1="184.60" x2="136.60" y2="186.80" class="tc"/>
<text x="125.83" y="195.05" textLength="21.28" lengthAdjust="spacingAndGlyphs">1200</text>
<line x1="165.90" y1="184.60" x2="165.90" y2="186.80" class="tc"/>
<text x="155.13" y="195.05" textLength="21.28" lengthAdjust="spacingAndGlyphs">1300</text>
<line x1="195.20" y1="184.60" x2="195.20" y2="186.80" class="tc"/>
<text x="184.43" y="195.05" textLength="21.28" lengthAdjust="spacingAndGlyphs">1400</text>
<line x1="224.50" y1="184.60" x2="224.50" y2="186.80" class="tc"/>
<text x="213.73" y="195.05" textLength="21.28" lengthAdjust="spacingAndGlyphs">1500</text>
<text x="103.44" y="207.40" textLength="76.16" lengthAdjust="spacingAndGlyphs">Anticyclone area (</text>
<text x="179.62" y="207.40" textLength="12.95" lengthAdjust="spacingAndGlyphs" style="font-style:italic;">km</text>
<text x="193.00" y="204.34" textLength="3.71" lengthAdjust="spacingAndGlyphs" style="font-size:6.60px;">2</text>
<text x="196.95" y="207.40" textLength="3.25" lengthAdjust="spacingAndGlyphs">)</text>
<polygon points="293.25,176.30 285.05,180.45 293.25,184.60" fill="#f0eeec"/>
<polygon points="437.75,176.30 445.95,180.45 437.75,184.60" fill="#5a1026"/>
<rect x="292.25" y="176.30" width="146.50" height="8.30" fill="url(#g_amp)"/>
<polygon points="292.25,176.30 438.75,176.30 445.95,180.45 438.75,184.60 292.25,184.60 285.05,180.45" fill="none" stroke="#222" stroke-width="0.7" stroke-linejoin="miter"/>
<line x1="292.25" y1="184.60" x2="292.25" y2="186.80" class="tc"/>
<text x="281.48" y="195.05" textLength="21.28" lengthAdjust="spacingAndGlyphs">1000</text>
<line x1="321.55" y1="184.60" x2="321.55" y2="186.80" class="tc"/>
<text x="310.78" y="195.05" textLength="21.28" lengthAdjust="spacingAndGlyphs">1100</text>
<line x1="350.85" y1="184.60" x2="350.85" y2="186.80" class="tc"/>
<text x="340.08" y="195.05" textLength="21.28" lengthAdjust="spacingAndGlyphs">1200</text>
<line x1="380.15" y1="184.60" x2="380.15" y2="186.80" class="tc"/>
<text x="369.38" y="195.05" textLength="21.28" lengthAdjust="spacingAndGlyphs">1300</text>
<line x1="409.45" y1="184.60" x2="409.45" y2="186.80" class="tc"/>
<text x="398.68" y="195.05" textLength="21.28" lengthAdjust="spacingAndGlyphs">1400</text>
<line x1="438.75" y1="184.60" x2="438.75" y2="186.80" class="tc"/>
<text x="427.98" y="195.05" textLength="21.28" lengthAdjust="spacingAndGlyphs">1500</text>
<text x="317.69" y="207.40" textLength="76.16" lengthAdjust="spacingAndGlyphs">Anticyclone area (</text>
<text x="393.87" y="207.40" textLength="12.95" lengthAdjust="spacingAndGlyphs" style="font-style:italic;">km</text>
<text x="407.25" y="204.34" textLength="3.71" lengthAdjust="spacingAndGlyphs" style="font-size:6.60px;">2</text>
<text x="411.20" y="207.40" textLength="3.25" lengthAdjust="spacingAndGlyphs">)</text>
<polygon points="507.65,176.30 499.45,180.45 507.65,184.60" fill="#202869"/>
<polygon points="652.15,176.30 660.35,180.45 652.15,184.60" fill="#5a1026"/>
<rect x="506.65" y="176.30" width="146.50" height="8.30" fill="url(#g_bal)"/>
<polygon points="506.65,176.30 653.15,176.30 660.35,180.45 653.15,184.60 506.65,184.60 499.45,180.45" fill="none" stroke="#222" stroke-width="0.7" stroke-linejoin="miter"/>
<line x1="506.65" y1="184.60" x2="506.65" y2="186.80" class="tc"/>
<rect x="495.94" y="192.10" width="5.21" height="0.86" fill="#111"/>
<text x="502.08" y="195.05" textLength="15.95" lengthAdjust="spacingAndGlyphs">200</text>
<line x1="543.28" y1="184.60" x2="543.28" y2="186.80" class="tc"/>
<rect x="532.57" y="192.10" width="5.21" height="0.86" fill="#111"/>
<text x="538.70" y="195.05" textLength="15.95" lengthAdjust="spacingAndGlyphs">100</text>
<line x1="579.90" y1="184.60" x2="579.90" y2="186.80" class="tc"/>
<text x="577.26" y="195.05" textLength="5.29" lengthAdjust="spacingAndGlyphs">0</text>
<line x1="616.53" y1="184.60" x2="616.53" y2="186.80" class="tc"/>
<text x="608.40" y="195.05" textLength="15.95" lengthAdjust="spacingAndGlyphs">100</text>
<line x1="653.15" y1="184.60" x2="653.15" y2="186.80" class="tc"/>
<text x="645.18" y="195.05" textLength="15.95" lengthAdjust="spacingAndGlyphs">200</text>
<text x="527.92" y="207.40" textLength="84.55" lengthAdjust="spacingAndGlyphs">Δ Anticyclone area (</text>
<text x="612.49" y="207.40" textLength="12.95" lengthAdjust="spacingAndGlyphs" style="font-style:italic;">km</text>
<text x="625.87" y="204.34" textLength="3.71" lengthAdjust="spacingAndGlyphs" style="font-size:6.60px;">2</text>
<text x="629.82" y="207.40" textLength="3.25" lengthAdjust="spacingAndGlyphs">)</text>
<rect x="47.40" y="221.60" width="17.90" height="13.78" fill="#d29d8c"/>
<rect x="64.70" y="221.60" width="17.90" height="13.78" fill="#d19a89"/>
<rect x="82.00" y="221.60" width="17.90" height="13.78" fill="#ca806b"/>
<rect x="99.30" y="221.60" width="17.90" height="13.78" fill="#c8765f"/>
<rect x="116.60" y="221.60" width="17.90" height="13.78" fill="#ce8f7c"/>
<rect x="133.90" y="221.60" width="17.90" height="13.78" fill="#d29d8c"/>
<rect x="151.20" y="221.60" width="17.90" height="13.78" fill="#cc8772"/>
<rect x="168.50" y="221.60" width="17.90" height="13.78" fill="#c7725b"/>
<rect x="185.80" y="221.60" width="17.90" height="13.78" fill="#c3664e"/>
<rect x="203.10" y="221.60" width="17.90" height="13.78" fill="#be5037"/>
<rect x="220.40" y="221.60" width="17.90" height="13.78" fill="#bf553c"/>
<rect x="237.70" y="221.60" width="17.30" height="13.78" fill="#cb836e"/>
<rect x="47.40" y="234.78" width="17.90" height="13.78" fill="#d09886"/>
<rect x="64.70" y="234.78" width="17.90" height="13.78" fill="#d3a090"/>
<rect x="82.00" y="234.78" width="17.90" height="13.78" fill="#cd8a76"/>
<rect x="99.30" y="234.78" width="17.90" height="13.78" fill="#c97c67"/>
<rect x="116.60" y="234.78" width="17.90" height="13.78" fill="#d09886"/>
<rect x="133.90" y="234.78" width="17.90" height="13.78" fill="#d5a899"/>
<rect x="151.20" y="234.78" width="17.90" height="13.78" fill="#d09886"/>
<rect x="168.50" y="234.78" width="17.90" height="13.78" fill="#c97c67"/>
<rect x="185.80" y="234.78" width="17.90" height="13.78" fill="#c56b54"/>
<rect x="203.10" y="234.78" width="17.90" height="13.78" fill="#c0573f"/>
<rect x="220.40" y="234.78" width="17.90" height="13.78" fill="#c56b54"/>
<rect x="237.70" y="234.78" width="17.30" height="13.78" fill="#cf9280"/>
<rect x="47.40" y="247.95" width="17.90" height="13.78" fill="#cb836e"/>
<rect x="64.70" y="247.95" width="17.90" height="13.78" fill="#cc8772"/>
<rect x="82.00" y="247.95" width="17.90" height="13.78" fill="#c7725b"/>
<rect x="99.30" y="247.95" width="17.90" height="13.78" fill="#c87963"/>
<rect x="116.60" y="247.95" width="17.90" height="13.78" fill="#ce8f7c"/>
<rect x="133.90" y="247.95" width="17.90" height="13.78" fill="#d7afa2"/>
<rect x="151.20" y="247.95" width="17.90" height="13.78" fill="#d5a899"/>
<rect x="168.50" y="247.95" width="17.90" height="13.78" fill="#d3a293"/>
<rect x="185.80" y="247.95" width="17.90" height="13.78" fill="#d29d8c"/>
<rect x="203.10" y="247.95" width="17.90" height="13.78" fill="#c97c67"/>
<rect x="220.40" y="247.95" width="17.90" height="13.78" fill="#cc8772"/>
<rect x="237.70" y="247.95" width="17.30" height="13.78" fill="#cf9280"/>
<rect x="47.40" y="261.12" width="17.90" height="13.18" fill="#cd8a76"/>
<rect x="64.70" y="261.12" width="17.90" height="13.18" fill="#d29d8c"/>
<rect x="82.00" y="261.12" width="17.90" height="13.18" fill="#cc8772"/>
<rect x="99.30" y="261.12" width="17.90" height="13.18" fill="#c97c67"/>
<rect x="116.60" y="261.12" width="17.90" height="13.18" fill="#cf9280"/>
<rect x="133.90" y="261.12" width="17.90" height="13.18" fill="#d5a899"/>
<rect x="151.20" y="261.12" width="17.90" height="13.18" fill="#d5a899"/>
<rect x="168.50" y="261.12" width="17.90" height="13.18" fill="#d3a293"/>
<rect x="185.80" y="261.12" width="17.90" height="13.18" fill="#d3a090"/>
<rect x="203.10" y="261.12" width="17.90" height="13.18" fill="#cc8772"/>
<rect x="220.40" y="261.12" width="17.90" height="13.18" fill="#cd8a76"/>
<rect x="237.70" y="261.12" width="17.30" height="13.18" fill="#d19a89"/>
<rect x="47.40" y="221.60" width="207.60" height="52.70" fill="none" stroke="#484848" stroke-width="0.9"/>
<line x1="44.80" y1="228.50" x2="47.40" y2="228.50" class="tk"/>
<line x1="44.80" y1="241.50" x2="47.40" y2="241.50" class="tk"/>
<line x1="44.80" y1="254.50" x2="47.40" y2="254.50" class="tk"/>
<line x1="44.80" y1="268.50" x2="47.40" y2="268.50" class="tk"/>
<line x1="56.50" y1="274.30" x2="56.50" y2="276.90" class="tk"/>
<line x1="73.50" y1="274.30" x2="73.50" y2="276.90" class="tk"/>
<line x1="90.50" y1="274.30" x2="90.50" y2="276.90" class="tk"/>
<line x1="108.50" y1="274.30" x2="108.50" y2="276.90" class="tk"/>
<line x1="125.50" y1="274.30" x2="125.50" y2="276.90" class="tk"/>
<line x1="142.50" y1="274.30" x2="142.50" y2="276.90" class="tk"/>
<line x1="160.50" y1="274.30" x2="160.50" y2="276.90" class="tk"/>
<line x1="177.50" y1="274.30" x2="177.50" y2="276.90" class="tk"/>
<line x1="194.50" y1="274.30" x2="194.50" y2="276.90" class="tk"/>
<line x1="212.50" y1="274.30" x2="212.50" y2="276.90" class="tk"/>
<line x1="229.50" y1="274.30" x2="229.50" y2="276.90" class="tk"/>
<line x1="246.50" y1="274.30" x2="246.50" y2="276.90" class="tk"/>
<rect x="261.65" y="221.60" width="17.90" height="13.78" fill="#c3634b"/>
<rect x="278.95" y="221.60" width="17.90" height="13.78" fill="#c15c43"/>
<rect x="296.25" y="221.60" width="17.90" height="13.78" fill="#c0573f"/>
<rect x="313.55" y="221.60" width="17.90" height="13.78" fill="#b33d2e"/>
<rect x="330.85" y="221.60" width="17.90" height="13.78" fill="#a0252b"/>
<rect x="348.15" y="221.60" width="17.90" height="13.78" fill="#9a202c"/>
<rect x="365.45" y="221.60" width="17.90" height="13.78" fill="#ae332a"/>
<rect x="382.75" y="221.60" width="17.90" height="13.78" fill="#ba4a34"/>
<rect x="400.05" y="221.60" width="17.90" height="13.78" fill="#bf553c"/>
<rect x="417.35" y="221.60" width="17.90" height="13.78" fill="#b74331"/>
<rect x="434.65" y="221.60" width="17.90" height="13.78" fill="#b74331"/>
<rect x="451.95" y="221.60" width="17.30" height="13.78" fill="#c15c43"/>
<rect x="261.65" y="234.78" width="17.90" height="13.78" fill="#c46850"/>
<rect x="278.95" y="234.78" width="17.90" height="13.78" fill="#c3634b"/>
<rect x="296.25" y="234.78" width="17.90" height="13.78" fill="#c05a41"/>
<rect x="313.55" y="234.78" width="17.90" height="13.78" fill="#b5402f"/>
<rect x="330.85" y="234.78" width="17.90" height="13.78" fill="#a0252b"/>
<rect x="348.15" y="234.78" width="17.90" height="13.78" fill="#9a202c"/>
<rect x="365.45" y="234.78" width="17.90" height="13.78" fill="#b33d2e"/>
<rect x="382.75" y="234.78" width="17.90" height="13.78" fill="#ba4a34"/>
<rect x="400.05" y="234.78" width="17.90" height="13.78" fill="#c15c43"/>
<rect x="417.35" y="234.78" width="17.90" height="13.78" fill="#bf553c"/>
<rect x="434.65" y="234.78" width="17.90" height="13.78" fill="#ba4a34"/>
<rect x="451.95" y="234.78" width="17.30" height="13.78" fill="#c0573f"/>
<rect x="261.65" y="247.95" width="17.90" height="13.78" fill="#bc4d36"/>
<rect x="278.95" y="247.95" width="17.90" height="13.78" fill="#b13a2c"/>
<rect x="296.25" y="247.95" width="17.90" height="13.78" fill="#b33d2e"/>
<rect x="313.55" y="247.95" width="17.90" height="13.78" fill="#ae332a"/>
<rect x="330.85" y="247.95" width="17.90" height="13.78" fill="#a82c29"/>
<rect x="348.15" y="247.95" width="17.90" height="13.78" fill="#ac3028"/>
<rect x="365.45" y="247.95" width="17.90" height="13.78" fill="#bc4d36"/>
<rect x="382.75" y="247.95" width="17.90" height="13.78" fill="#c46850"/>
<rect x="400.05" y="247.95" width="17.90" height="13.78" fill="#c3664e"/>
<rect x="417.35" y="247.95" width="17.90" height="13.78" fill="#c3634b"/>
<rect x="434.65" y="247.95" width="17.90" height="13.78" fill="#c15c43"/>
<rect x="451.95" y="247.95" width="17.30" height="13.78" fill="#ba4a34"/>
<rect x="261.65" y="261.12" width="17.90" height="13.18" fill="#c7725b"/>
<rect x="278.95" y="261.12" width="17.90" height="13.18" fill="#c56b54"/>
<rect x="296.25" y="261.12" width="17.90" height="13.18" fill="#c3664e"/>
<rect x="313.55" y="261.12" width="17.90" height="13.18" fill="#bf523a"/>
<rect x="330.85" y="261.12" width="17.90" height="13.18" fill="#b33d2e"/>
<rect x="348.15" y="261.12" width="17.90" height="13.18" fill="#bc4d36"/>
<rect x="365.45" y="261.12" width="17.90" height="13.18" fill="#c3634b"/>
<rect x="382.75" y="261.12" width="17.90" height="13.18" fill="#ca806b"/>
<rect x="400.05" y="261.12" width="17.90" height="13.18" fill="#cc8772"/>
<rect x="417.35" y="261.12" width="17.90" height="13.18" fill="#c8765f"/>
<rect x="434.65" y="261.12" width="17.90" height="13.18" fill="#c46850"/>
<rect x="451.95" y="261.12" width="17.30" height="13.18" fill="#c46850"/>
<rect x="261.65" y="221.60" width="207.60" height="52.70" fill="none" stroke="#484848" stroke-width="0.9"/>
<line x1="259.05" y1="228.50" x2="261.65" y2="228.50" class="tk"/>
<line x1="259.05" y1="241.50" x2="261.65" y2="241.50" class="tk"/>
<line x1="259.05" y1="254.50" x2="261.65" y2="254.50" class="tk"/>
<line x1="259.05" y1="268.50" x2="261.65" y2="268.50" class="tk"/>
<line x1="270.50" y1="274.30" x2="270.50" y2="276.90" class="tk"/>
<line x1="287.50" y1="274.30" x2="287.50" y2="276.90" class="tk"/>
<line x1="305.50" y1="274.30" x2="305.50" y2="276.90" class="tk"/>
<line x1="322.50" y1="274.30" x2="322.50" y2="276.90" class="tk"/>
<line x1="339.50" y1="274.30" x2="339.50" y2="276.90" class="tk"/>
<line x1="357.50" y1="274.30" x2="357.50" y2="276.90" class="tk"/>
<line x1="374.50" y1="274.30" x2="374.50" y2="276.90" class="tk"/>
<line x1="391.50" y1="274.30" x2="391.50" y2="276.90" class="tk"/>
<line x1="409.50" y1="274.30" x2="409.50" y2="276.90" class="tk"/>
<line x1="426.50" y1="274.30" x2="426.50" y2="276.90" class="tk"/>
<line x1="443.50" y1="274.30" x2="443.50" y2="276.90" class="tk"/>
<line x1="460.50" y1="274.30" x2="460.50" y2="276.90" class="tk"/>
<rect x="476.05" y="221.60" width="17.90" height="13.78" fill="#cc8772"/>
<rect x="493.35" y="221.60" width="17.90" height="13.78" fill="#c97c67"/>
<rect x="510.65" y="221.60" width="17.90" height="13.78" fill="#d19a89"/>
<rect x="527.95" y="221.60" width="17.90" height="13.78" fill="#c56b54"/>
<rect x="545.25" y="221.60" width="17.90" height="13.78" fill="#9e232c"/>
<rect x="562.55" y="221.60" width="17.90" height="13.78" fill="#6f122a"/>
<rect x="579.85" y="221.60" width="17.90" height="13.78" fill="#b13a2c"/>
<rect x="597.15" y="221.60" width="17.90" height="13.78" fill="#d09886"/>
<rect x="614.45" y="221.60" width="17.90" height="13.78" fill="#e0c8c0"/>
<rect x="631.75" y="221.60" width="17.90" height="13.78" fill="#e5d6d2"/>
<rect x="649.05" y="221.60" width="17.90" height="13.78" fill="#dec3ba"/>
<rect x="666.35" y="221.60" width="17.30" height="13.78" fill="#d19a89"/>
<rect x="476.05" y="234.78" width="17.90" height="13.78" fill="#d29d8c"/>
<rect x="493.35" y="234.78" width="17.90" height="13.78" fill="#c56b54"/>
<rect x="510.65" y="234.78" width="17.90" height="13.78" fill="#ca806b"/>
<rect x="527.95" y="234.78" width="17.90" height="13.78" fill="#c46850"/>
<rect x="545.25" y="234.78" width="17.90" height="13.78" fill="#9a202c"/>
<rect x="562.55" y="234.78" width="17.90" height="13.78" fill="#651128"/>
<rect x="579.85" y="234.78" width="17.90" height="13.78" fill="#b13a2c"/>
<rect x="597.15" y="234.78" width="17.90" height="13.78" fill="#d09886"/>
<rect x="614.45" y="234.78" width="17.90" height="13.78" fill="#e0c8c0"/>
<rect x="631.75" y="234.78" width="17.90" height="13.78" fill="#e7dbd7"/>
<rect x="649.05" y="234.78" width="17.90" height="13.78" fill="#d5a899"/>
<rect x="666.35" y="234.78" width="17.30" height="13.78" fill="#c87963"/>
<rect x="476.05" y="247.95" width="17.90" height="13.78" fill="#ca806b"/>
<rect x="493.35" y="247.95" width="17.90" height="13.78" fill="#be5037"/>
<rect x="510.65" y="247.95" width="17.90" height="13.78" fill="#c87963"/>
<rect x="527.95" y="247.95" width="17.90" height="13.78" fill="#c3664e"/>
<rect x="545.25" y="247.95" width="17.90" height="13.78" fill="#ac3028"/>
<rect x="562.55" y="247.95" width="17.90" height="13.78" fill="#8d1a2d"/>
<rect x="579.85" y="247.95" width="17.90" height="13.78" fill="#b13a2c"/>
<rect x="597.15" y="247.95" width="17.90" height="13.78" fill="#ca806b"/>
<rect x="614.45" y="247.95" width="17.90" height="13.78" fill="#cd8a76"/>
<rect x="631.75" y="247.95" width="17.90" height="13.78" fill="#dcbeb4"/>
<rect x="649.05" y="247.95" width="17.90" height="13.78" fill="#d19a89"/>
<rect x="666.35" y="247.95" width="17.30" height="13.78" fill="#c26148"/>
<rect x="476.05" y="261.12" width="17.90" height="13.18" fill="#dec3ba"/>
<rect x="493.35" y="261.12" width="17.90" height="13.18" fill="#d09583"/>
<rect x="510.65" y="261.12" width="17.90" height="13.18" fill="#d5a899"/>
<rect x="527.95" y="261.12" width="17.90" height="13.18" fill="#cf9280"/>
<rect x="545.25" y="261.12" width="17.90" height="13.18" fill="#be5037"/>
<rect x="562.55" y="261.12" width="17.90" height="13.18" fill="#b74331"/>
<rect x="579.85" y="261.12" width="17.90" height="13.18" fill="#c3664e"/>
<rect x="597.15" y="261.12" width="17.90" height="13.18" fill="#d5a899"/>
<rect x="614.45" y="261.12" width="17.90" height="13.18" fill="#dcbeb4"/>
<rect x="631.75" y="261.12" width="17.90" height="13.18" fill="#e3d1cc"/>
<rect x="649.05" y="261.12" width="17.90" height="13.18" fill="#d5a899"/>
<rect x="666.35" y="261.12" width="17.30" height="13.18" fill="#d29d8c"/>
<rect x="631.75" y="221.60" width="17.30" height="13.18" fill="url(#hp)"/>
<rect x="631.75" y="234.78" width="17.30" height="13.18" fill="url(#hp)"/>
<rect x="476.05" y="221.60" width="207.60" height="52.70" fill="none" stroke="#484848" stroke-width="0.9"/>
<line x1="473.45" y1="228.50" x2="476.05" y2="228.50" class="tk"/>
<line x1="473.45" y1="241.50" x2="476.05" y2="241.50" class="tk"/>
<line x1="473.45" y1="254.50" x2="476.05" y2="254.50" class="tk"/>
<line x1="473.45" y1="268.50" x2="476.05" y2="268.50" class="tk"/>
<line x1="485.50" y1="274.30" x2="485.50" y2="276.90" class="tk"/>
<line x1="502.50" y1="274.30" x2="502.50" y2="276.90" class="tk"/>
<line x1="519.50" y1="274.30" x2="519.50" y2="276.90" class="tk"/>
<line x1="536.50" y1="274.30" x2="536.50" y2="276.90" class="tk"/>
<line x1="554.50" y1="274.30" x2="554.50" y2="276.90" class="tk"/>
<line x1="571.50" y1="274.30" x2="571.50" y2="276.90" class="tk"/>
<line x1="588.50" y1="274.30" x2="588.50" y2="276.90" class="tk"/>
<line x1="606.50" y1="274.30" x2="606.50" y2="276.90" class="tk"/>
<line x1="623.50" y1="274.30" x2="623.50" y2="276.90" class="tk"/>
<line x1="640.50" y1="274.30" x2="640.50" y2="276.90" class="tk"/>
<line x1="658.50" y1="274.30" x2="658.50" y2="276.90" class="tk"/>
<line x1="675.50" y1="274.30" x2="675.50" y2="276.90" class="tk"/>
<text x="21.51" y="231.79" textLength="21.28" lengthAdjust="spacingAndGlyphs">0-5m</text>
<text x="10.93" y="244.96" textLength="32.44" lengthAdjust="spacingAndGlyphs">25-30m</text>
<text x="5.63" y="258.14" textLength="37.77" lengthAdjust="spacingAndGlyphs">95-100m</text>
<text x="0.34" y="271.31" textLength="43.10" lengthAdjust="spacingAndGlyphs">190-200m</text>
<polygon points="79.00,279.60 70.80,283.75 79.00,287.90" fill="#f0eeec"/>
<polygon points="223.50,279.60 231.70,283.75 223.50,287.90" fill="#5a1026"/>
<rect x="78.00" y="279.60" width="146.50" height="8.30" fill="url(#g_amp)"/>
<polygon points="78.00,279.60 224.50,279.60 231.70,283.75 224.50,287.90 78.00,287.90 70.80,283.75" fill="none" stroke="#222" stroke-width="0.7" stroke-linejoin="miter"/>
<line x1="78.00" y1="287.90" x2="78.00" y2="290.10" class="tc"/>
<text x="71.44" y="298.35" textLength="13.28" lengthAdjust="spacingAndGlyphs">2.5</text>
<line x1="151.25" y1="287.90" x2="151.25" y2="290.10" class="tc"/>
<text x="144.68" y="298.35" textLength="13.28" lengthAdjust="spacingAndGlyphs">3.5</text>
<line x1="224.50" y1="287.90" x2="224.50" y2="290.10" class="tc"/>
<text x="218.04" y="298.35" textLength="13.28" lengthAdjust="spacingAndGlyphs">4.5</text>
<text x="75.43" y="310.80" textLength="131.82" lengthAdjust="spacingAndGlyphs">Cyclone vorticity amplitude (10</text>
<text x="207.37" y="307.74" textLength="3.71" lengthAdjust="spacingAndGlyphs" style="font-size:6.60px;">5</text>
<text x="211.31" y="310.80" textLength="4.33" lengthAdjust="spacingAndGlyphs" style="font-style:italic;">s</text>
<rect x="216.67" y="305.67" width="3.65" height="0.60" fill="#111"/>
<text x="220.96" y="307.74" textLength="3.71" lengthAdjust="spacingAndGlyphs" style="font-size:6.60px;">1</text>
<text x="224.91" y="310.80" textLength="3.25" lengthAdjust="spacingAndGlyphs">)</text>
<polygon points="293.25,279.60 285.05,283.75 293.25,287.90" fill="#f0eeec"/>
<polygon points="437.75,279.60 445.95,283.75 437.75,287.90" fill="#5a1026"/>
<rect x="292.25" y="279.60" width="146.50" height="8.30" fill="url(#g_amp)"/>
<polygon points="292.25,279.60 438.75,279.60 445.95,283.75 438.75,287.90 292.25,287.90 285.05,283.75" fill="none" stroke="#222" stroke-width="0.7" stroke-linejoin="miter"/>
<line x1="292.25" y1="287.90" x2="292.25" y2="290.10" class="tc"/>
<text x="285.69" y="298.35" textLength="13.28" lengthAdjust="spacingAndGlyphs">2.5</text>
<line x1="365.50" y1="287.90" x2="365.50" y2="290.10" class="tc"/>
<text x="358.93" y="298.35" textLength="13.28" lengthAdjust="spacingAndGlyphs">3.5</text>
<line x1="438.75" y1="287.90" x2="438.75" y2="290.10" class="tc"/>
<text x="432.29" y="298.35" textLength="13.28" lengthAdjust="spacingAndGlyphs">4.5</text>
<text x="289.68" y="310.80" textLength="131.82" lengthAdjust="spacingAndGlyphs">Cyclone vorticity amplitude (10</text>
<text x="421.62" y="307.74" textLength="3.71" lengthAdjust="spacingAndGlyphs" style="font-size:6.60px;">5</text>
<text x="425.56" y="310.80" textLength="4.33" lengthAdjust="spacingAndGlyphs" style="font-style:italic;">s</text>
<rect x="430.92" y="305.67" width="3.65" height="0.60" fill="#111"/>
<text x="435.21" y="307.74" textLength="3.71" lengthAdjust="spacingAndGlyphs" style="font-size:6.60px;">1</text>
<text x="439.16" y="310.80" textLength="3.25" lengthAdjust="spacingAndGlyphs">)</text>
<polygon points="507.65,279.60 499.45,283.75 507.65,287.90" fill="#202869"/>
<polygon points="652.15,279.60 660.35,283.75 652.15,287.90" fill="#5a1026"/>
<rect x="506.65" y="279.60" width="146.50" height="8.30" fill="url(#g_bal)"/>
<polygon points="506.65,279.60 653.15,279.60 660.35,283.75 653.15,287.90 506.65,287.90 499.45,283.75" fill="none" stroke="#222" stroke-width="0.7" stroke-linejoin="miter"/>
<line x1="513.24" y1="287.90" x2="513.24" y2="290.10" class="tc"/>
<rect x="507.94" y="295.40" width="5.21" height="0.86" fill="#111"/>
<text x="514.07" y="298.35" textLength="5.29" lengthAdjust="spacingAndGlyphs">1</text>
<line x1="579.90" y1="287.90" x2="579.90" y2="290.10" class="tc"/>
<text x="577.26" y="298.35" textLength="5.29" lengthAdjust="spacingAndGlyphs">0</text>
<line x1="646.56" y1="287.90" x2="646.56" y2="290.10" class="tc"/>
<text x="643.84" y="298.35" textLength="5.29" lengthAdjust="spacingAndGlyphs">1</text>
<text x="500.11" y="310.80" textLength="140.21" lengthAdjust="spacingAndGlyphs">Δ Cyclone vorticity amplitude (10</text>
<text x="640.44" y="307.74" textLength="3.71" lengthAdjust="spacingAndGlyphs" style="font-size:6.60px;">5</text>
<text x="644.39" y="310.80" textLength="4.33" lengthAdjust="spacingAndGlyphs" style="font-style:italic;">s</text>
<rect x="649.74" y="305.67" width="3.65" height="0.60" fill="#111"/>
<text x="654.04" y="307.74" textLength="3.71" lengthAdjust="spacingAndGlyphs" style="font-size:6.60px;">1</text>
<text x="657.99" y="310.80" textLength="3.25" lengthAdjust="spacingAndGlyphs">)</text>
<rect x="47.40" y="324.95" width="17.90" height="13.95" fill="#dab9ae"/>
<rect x="64.70" y="324.95" width="17.90" height="13.95" fill="#dab6ab"/>
<rect x="82.00" y="324.95" width="17.90" height="13.95" fill="#cd8a76"/>
<rect x="99.30" y="324.95" width="17.90" height="13.95" fill="#c46850"/>
<rect x="116.60" y="324.95" width="17.90" height="13.95" fill="#c46850"/>
<rect x="133.90" y="324.95" width="17.90" height="13.95" fill="#d19a89"/>
<rect x="151.20" y="324.95" width="17.90" height="13.95" fill="#d29d8c"/>
<rect x="168.50" y="324.95" width="17.90" height="13.95" fill="#d19a89"/>
<rect x="185.80" y="324.95" width="17.90" height="13.95" fill="#d19a89"/>
<rect x="203.10" y="324.95" width="17.90" height="13.95" fill="#d09583"/>
<rect x="220.40" y="324.95" width="17.90" height="13.95" fill="#d19a89"/>
<rect x="237.70" y="324.95" width="17.30" height="13.95" fill="#d6ac9f"/>
<rect x="47.40" y="338.30" width="17.90" height="13.95" fill="#e1ccc6"/>
<rect x="64.70" y="338.30" width="17.90" height="13.95" fill="#ddc0b7"/>
<rect x="82.00" y="338.30" width="17.90" height="13.95" fill="#cd8a76"/>
<rect x="99.30" y="338.30" width="17.90" height="13.95" fill="#c46850"/>
<rect x="116.60" y="338.30" width="17.90" height="13.95" fill="#c56b54"/>
<rect x="133.90" y="338.30" width="17.90" height="13.95" fill="#d29d8c"/>
<rect x="151.20" y="338.30" width="17.90" height="13.95" fill="#d3a090"/>
<rect x="168.50" y="338.30" width="17.90" height="13.95" fill="#d6aa9c"/>
<rect x="185.80" y="338.30" width="17.90" height="13.95" fill="#d6ac9f"/>
<rect x="203.10" y="338.30" width="17.90" height="13.95" fill="#d3a090"/>
<rect x="220.40" y="338.30" width="17.90" height="13.95" fill="#d6ac9f"/>
<rect x="237.70" y="338.30" width="17.30" height="13.95" fill="#dec3ba"/>
<rect x="47.40" y="351.65" width="17.90" height="13.95" fill="#d4a596"/>
<rect x="64.70" y="351.65" width="17.90" height="13.95" fill="#d09886"/>
<rect x="82.00" y="351.65" width="17.90" height="13.95" fill="#c46850"/>
<rect x="99.30" y="351.65" width="17.90" height="13.95" fill="#c15c43"/>
<rect x="116.60" y="351.65" width="17.90" height="13.95" fill="#c25e46"/>
<rect x="133.90" y="351.65" width="17.90" height="13.95" fill="#ce8f7c"/>
<rect x="151.20" y="351.65" width="17.90" height="13.95" fill="#d3a090"/>
<rect x="168.50" y="351.65" width="17.90" height="13.95" fill="#d9b4a8"/>
<rect x="185.80" y="351.65" width="17.90" height="13.95" fill="#dfc5bd"/>
<rect x="203.10" y="351.65" width="17.90" height="13.95" fill="#dcbeb4"/>
<rect x="220.40" y="351.65" width="17.90" height="13.95" fill="#d8b2a5"/>
<rect x="237.70" y="351.65" width="17.30" height="13.95" fill="#d6ac9f"/>
<rect x="47.40" y="365.00" width="17.90" height="13.35" fill="#d4a596"/>
<rect x="64.70" y="365.00" width="17.90" height="13.35" fill="#d4a596"/>
<rect x="82.00" y="365.00" width="17.90" height="13.35" fill="#d09583"/>
<rect x="99.30" y="365.00" width="17.90" height="13.35" fill="#ca806b"/>
<rect x="116.60" y="365.00" width="17.90" height="13.35" fill="#cb836e"/>
<rect x="133.90" y="365.00" width="17.90" height="13.35" fill="#d4a596"/>
<rect x="151.20" y="365.00" width="17.90" height="13.35" fill="#dcbeb4"/>
<rect x="168.50" y="365.00" width="17.90" height="13.35" fill="#dcbeb4"/>
<rect x="185.80" y="365.00" width="17.90" height="13.35" fill="#dbbcb1"/>
<rect x="203.10" y="365.00" width="17.90" height="13.35" fill="#e0c8c0"/>
<rect x="220.40" y="365.00" width="17.90" height="13.35" fill="#ddc0b7"/>
<rect x="237.70" y="365.00" width="17.30" height="13.35" fill="#dab9ae"/>
<rect x="47.40" y="324.95" width="207.60" height="53.40" fill="none" stroke="#484848" stroke-width="0.9"/>
<line x1="44.80" y1="331.50" x2="47.40" y2="331.50" class="tk"/>
<line x1="44.80" y1="345.50" x2="47.40" y2="345.50" class="tk"/>
<line x1="44.80" y1="358.50" x2="47.40" y2="358.50" class="tk"/>
<line x1="44.80" y1="371.50" x2="47.40" y2="371.50" class="tk"/>
<line x1="56.50" y1="378.35" x2="56.50" y2="380.95" class="tk"/>
<line x1="73.50" y1="378.35" x2="73.50" y2="380.95" class="tk"/>
<line x1="90.50" y1="378.35" x2="90.50" y2="380.95" class="tk"/>
<line x1="108.50" y1="378.35" x2="108.50" y2="380.95" class="tk"/>
<line x1="125.50" y1="378.35" x2="125.50" y2="380.95" class="tk"/>
<line x1="142.50" y1="378.35" x2="142.50" y2="380.95" class="tk"/>
<line x1="160.50" y1="378.35" x2="160.50" y2="380.95" class="tk"/>
<line x1="177.50" y1="378.35" x2="177.50" y2="380.95" class="tk"/>
<line x1="194.50" y1="378.35" x2="194.50" y2="380.95" class="tk"/>
<line x1="212.50" y1="378.35" x2="212.50" y2="380.95" class="tk"/>
<line x1="229.50" y1="378.35" x2="229.50" y2="380.95" class="tk"/>
<line x1="246.50" y1="378.35" x2="246.50" y2="380.95" class="tk"/>
<rect x="261.65" y="324.95" width="17.90" height="13.95" fill="#cb836e"/>
<rect x="278.95" y="324.95" width="17.90" height="13.95" fill="#cc8772"/>
<rect x="296.25" y="324.95" width="17.90" height="13.95" fill="#c3664e"/>
<rect x="313.55" y="324.95" width="17.90" height="13.95" fill="#b33d2e"/>
<rect x="330.85" y="324.95" width="17.90" height="13.95" fill="#9a202c"/>
<rect x="348.15" y="324.95" width="17.90" height="13.95" fill="#981e2d"/>
<rect x="365.45" y="324.95" width="17.90" height="13.95" fill="#b0362b"/>
<rect x="382.75" y="324.95" width="17.90" height="13.95" fill="#c15c43"/>
<rect x="400.05" y="324.95" width="17.90" height="13.95" fill="#c46850"/>
<rect x="417.35" y="324.95" width="17.90" height="13.95" fill="#c46850"/>
<rect x="434.65" y="324.95" width="17.90" height="13.95" fill="#c46850"/>
<rect x="451.95" y="324.95" width="17.30" height="13.95" fill="#c7725b"/>
<rect x="261.65" y="338.30" width="17.90" height="13.95" fill="#cb836e"/>
<rect x="278.95" y="338.30" width="17.90" height="13.95" fill="#cc8772"/>
<rect x="296.25" y="338.30" width="17.90" height="13.95" fill="#c3664e"/>
<rect x="313.55" y="338.30" width="17.90" height="13.95" fill="#b0362b"/>
<rect x="330.85" y="338.30" width="17.90" height="13.95" fill="#981e2d"/>
<rect x="348.15" y="338.30" width="17.90" height="13.95" fill="#981e2d"/>
<rect x="365.45" y="338.30" width="17.90" height="13.95" fill="#b0362b"/>
<rect x="382.75" y="338.30" width="17.90" height="13.95" fill="#c15c43"/>
<rect x="400.05" y="338.30" width="17.90" height="13.95" fill="#c7725b"/>
<rect x="417.35" y="338.30" width="17.90" height="13.95" fill="#c3664e"/>
<rect x="434.65" y="338.30" width="17.90" height="13.95" fill="#c7725b"/>
<rect x="451.95" y="338.30" width="17.30" height="13.95" fill="#cb836e"/>
<rect x="261.65" y="351.65" width="17.90" height="13.95" fill="#c15c43"/>
<rect x="278.95" y="351.65" width="17.90" height="13.95" fill="#c15c43"/>
<rect x="296.25" y="351.65" width="17.90" height="13.95" fill="#c0573f"/>
<rect x="313.55" y="351.65" width="17.90" height="13.95" fill="#ac3028"/>
<rect x="330.85" y="351.65" width="17.90" height="13.95" fill="#a4292a"/>
<rect x="348.15" y="351.65" width="17.90" height="13.95" fill="#a0252b"/>
<rect x="365.45" y="351.65" width="17.90" height="13.95" fill="#ba4a34"/>
<rect x="382.75" y="351.65" width="17.90" height="13.95" fill="#c46850"/>
<rect x="400.05" y="351.65" width="17.90" height="13.95" fill="#c87963"/>
<rect x="417.35" y="351.65" width="17.90" height="13.95" fill="#ca806b"/>
<rect x="434.65" y="351.65" width="17.90" height="13.95" fill="#c87963"/>
<rect x="451.95" y="351.65" width="17.30" height="13.95" fill="#c7725b"/>
<rect x="261.65" y="365.00" width="17.90" height="13.35" fill="#c97c67"/>
<rect x="278.95" y="365.00" width="17.90" height="13.35" fill="#c97c67"/>
<rect x="296.25" y="365.00" width="17.90" height="13.35" fill="#c87963"/>
<rect x="313.55" y="365.00" width="17.90" height="13.35" fill="#c15c43"/>
<rect x="330.85" y="365.00" width="17.90" height="13.35" fill="#be5037"/>
<rect x="348.15" y="365.00" width="17.90" height="13.35" fill="#b74331"/>
<rect x="365.45" y="365.00" width="17.90" height="13.35" fill="#c15c43"/>
<rect x="382.75" y="365.00" width="17.90" height="13.35" fill="#ca806b"/>
<rect x="400.05" y="365.00" width="17.90" height="13.35" fill="#cc8772"/>
<rect x="417.35" y="365.00" width="17.90" height="13.35" fill="#cc8772"/>
<rect x="434.65" y="365.00" width="17.90" height="13.35" fill="#cc8772"/>
<rect x="451.95" y="365.00" width="17.30" height="13.35" fill="#cc8772"/>
<rect x="261.65" y="324.95" width="207.60" height="53.40" fill="none" stroke="#484848" stroke-width="0.9"/>
<line x1="259.05" y1="331.50" x2="261.65" y2="331.50" class="tk"/>
<line x1="259.05" y1="345.50" x2="261.65" y2="345.50" class="tk"/>
<line x1="259.05" y1="358.50" x2="261.65" y2="358.50" class="tk"/>
<line x1="259.05" y1="371.50" x2="261.65" y2="371.50" class="tk"/>
<line x1="270.50" y1="378.35" x2="270.50" y2="380.95" class="tk"/>
<line x1="287.50" y1="378.35" x2="287.50" y2="380.95" class="tk"/>
<line x1="305.50" y1="378.35" x2="305.50" y2="380.95" class="tk"/>
<line x1="322.50" y1="378.35" x2="322.50" y2="380.95" class="tk"/>
<line x1="339.50" y1="378.35" x2="339.50" y2="380.95" class="tk"/>
<line x1="357.50" y1="378.35" x2="357.50" y2="380.95" class="tk"/>
<line x1="374.50" y1="378.35" x2="374.50" y2="380.95" class="tk"/>
<line x1="391.50" y1="378.35" x2="391.50" y2="380.95" class="tk"/>
<line x1="409.50" y1="378.35" x2="409.50" y2="380.95" class="tk"/>
<line x1="426.50" y1="378.35" x2="426.50" y2="380.95" class="tk"/>
<line x1="443.50" y1="378.35" x2="443.50" y2="380.95" class="tk"/>
<line x1="460.50" y1="378.35" x2="460.50" y2="380.95" class="tk"/>
<rect x="476.05" y="324.95" width="17.90" height="13.95" fill="#cf9280"/>
<rect x="493.35" y="324.95" width="17.90" height="13.95" fill="#d09886"/>
<rect x="510.65" y="324.95" width="17.90" height="13.95" fill="#d5a899"/>
<rect x="527.95" y="324.95" width="17.90" height="13.95" fill="#cd8a76"/>
<rect x="545.25" y="324.95" width="17.90" height="13.95" fill="#b74331"/>
<rect x="562.55" y="324.95" width="17.90" height="13.95" fill="#76132c"/>
<rect x="579.85" y="324.95" width="17.90" height="13.95" fill="#a62b2a"/>
<rect x="597.15" y="324.95" width="17.90" height="13.95" fill="#c7725b"/>
<rect x="614.45" y="324.95" width="17.90" height="13.95" fill="#cc8772"/>
<rect x="631.75" y="324.95" width="17.90" height="13.95" fill="#d09583"/>
<rect x="649.05" y="324.95" width="17.90" height="13.95" fill="#ce8f7c"/>
<rect x="666.35" y="324.95" width="17.30" height="13.95" fill="#ce8f7c"/>
<rect x="476.05" y="338.30" width="17.90" height="13.95" fill="#ca806b"/>
<rect x="493.35" y="338.30" width="17.90" height="13.95" fill="#cc8772"/>
<rect x="510.65" y="338.30" width="17.90" height="13.95" fill="#d5a899"/>
<rect x="527.95" y="338.30" width="17.90" height="13.95" fill="#cb836e"/>
<rect x="545.25" y="338.30" width="17.90" height="13.95" fill="#b74331"/>
<rect x="562.55" y="338.30" width="17.90" height="13.95" fill="#681229"/>
<rect x="579.85" y="338.30" width="17.90" height="13.95" fill="#9c222c"/>
<rect x="597.15" y="338.30" width="17.90" height="13.95" fill="#c3634b"/>
<rect x="614.45" y="338.30" width="17.90" height="13.95" fill="#ca806b"/>
<rect x="631.75" y="338.30" width="17.90" height="13.95" fill="#cb836e"/>
<rect x="649.05" y="338.30" width="17.90" height="13.95" fill="#ca806b"/>
<rect x="666.35" y="338.30" width="17.30" height="13.95" fill="#ca806b"/>
<rect x="476.05" y="351.65" width="17.90" height="13.95" fill="#c7725b"/>
<rect x="493.35" y="351.65" width="17.90" height="13.95" fill="#ce8f7c"/>
<rect x="510.65" y="351.65" width="17.90" height="13.95" fill="#e2cfc9"/>
<rect x="527.95" y="351.65" width="17.90" height="13.95" fill="#d09583"/>
<rect x="545.25" y="351.65" width="17.90" height="13.95" fill="#c7725b"/>
<rect x="562.55" y="351.65" width="17.90" height="13.95" fill="#981e2d"/>
<rect x="579.85" y="351.65" width="17.90" height="13.95" fill="#ae332a"/>
<rect x="597.15" y="351.65" width="17.90" height="13.95" fill="#c46850"/>
<rect x="614.45" y="351.65" width="17.90" height="13.95" fill="#c46850"/>
<rect x="631.75" y="351.65" width="17.90" height="13.95" fill="#cc8772"/>
<rect x="649.05" y="351.65" width="17.90" height="13.95" fill="#ce8f7c"/>
<rect x="666.35" y="351.65" width="17.30" height="13.95" fill="#cd8a76"/>
<rect x="476.05" y="365.00" width="17.90" height="13.35" fill="#d3a090"/>
<rect x="493.35" y="365.00" width="17.90" height="13.35" fill="#dcbeb4"/>
<rect x="510.65" y="365.00" width="17.90" height="13.35" fill="#e2cfc9"/>
<rect x="527.95" y="365.00" width="17.90" height="13.35" fill="#d6ac9f"/>
<rect x="545.25" y="365.00" width="17.90" height="13.35" fill="#cd8a76"/>
<rect x="562.55" y="365.00" width="17.90" height="13.35" fill="#b13a2c"/>
<rect x="579.85" y="365.00" width="17.90" height="13.35" fill="#b33d2e"/>
<rect x="597.15" y="365.00" width="17.90" height="13.35" fill="#ca806b"/>
<rect x="614.45" y="365.00" width="17.90" height="13.35" fill="#cc8772"/>
<rect x="631.75" y="365.00" width="17.90" height="13.35" fill="#c87963"/>
<rect x="649.05" y="365.00" width="17.90" height="13.35" fill="#d09886"/>
<rect x="666.35" y="365.00" width="17.30" height="13.35" fill="#d3a090"/>
<rect x="476.05" y="324.95" width="207.60" height="53.40" fill="none" stroke="#484848" stroke-width="0.9"/>
<line x1="473.45" y1="331.50" x2="476.05" y2="331.50" class="tk"/>
<line x1="473.45" y1="345.50" x2="476.05" y2="345.50" class="tk"/>
<line x1="473.45" y1="358.50" x2="476.05" y2="358.50" class="tk"/>
<line x1="473.45" y1="371.50" x2="476.05" y2="371.50" class="tk"/>
<line x1="485.50" y1="378.35" x2="485.50" y2="380.95" class="tk"/>
<line x1="502.50" y1="378.35" x2="502.50" y2="380.95" class="tk"/>
<line x1="519.50" y1="378.35" x2="519.50" y2="380.95" class="tk"/>
<line x1="536.50" y1="378.35" x2="536.50" y2="380.95" class="tk"/>
<line x1="554.50" y1="378.35" x2="554.50" y2="380.95" class="tk"/>
<line x1="571.50" y1="378.35" x2="571.50" y2="380.95" class="tk"/>
<line x1="588.50" y1="378.35" x2="588.50" y2="380.95" class="tk"/>
<line x1="606.50" y1="378.35" x2="606.50" y2="380.95" class="tk"/>
<line x1="623.50" y1="378.35" x2="623.50" y2="380.95" class="tk"/>
<line x1="640.50" y1="378.35" x2="640.50" y2="380.95" class="tk"/>
<line x1="658.50" y1="378.35" x2="658.50" y2="380.95" class="tk"/>
<line x1="675.50" y1="378.35" x2="675.50" y2="380.95" class="tk"/>
<text x="21.51" y="335.23" textLength="21.28" lengthAdjust="spacingAndGlyphs">0-5m</text>
<text x="10.93" y="348.58" textLength="32.44" lengthAdjust="spacingAndGlyphs">25-30m</text>
<text x="5.63" y="361.93" textLength="37.77" lengthAdjust="spacingAndGlyphs">95-100m</text>
<text x="0.34" y="375.28" textLength="43.10" lengthAdjust="spacingAndGlyphs">190-200m</text>
<polygon points="79.00,393.40 70.80,397.55 79.00,401.70" fill="#f0eeec"/>
<polygon points="223.50,393.40 231.70,397.55 223.50,401.70" fill="#5a1026"/>
<rect x="78.00" y="393.40" width="146.50" height="8.30" fill="url(#g_amp)"/>
<polygon points="78.00,393.40 224.50,393.40 231.70,397.55 224.50,401.70 78.00,401.70 70.80,397.55" fill="none" stroke="#222" stroke-width="0.7" stroke-linejoin="miter"/>
<line x1="78.00" y1="401.70" x2="78.00" y2="403.90" class="tc"/>
<text x="71.44" y="412.15" textLength="13.28" lengthAdjust="spacingAndGlyphs">2.5</text>
<line x1="151.25" y1="401.70" x2="151.25" y2="403.90" class="tc"/>
<text x="144.68" y="412.15" textLength="13.28" lengthAdjust="spacingAndGlyphs">3.5</text>
<line x1="224.50" y1="401.70" x2="224.50" y2="403.90" class="tc"/>
<text x="218.04" y="412.15" textLength="13.28" lengthAdjust="spacingAndGlyphs">4.5</text>
<text x="67.98" y="424.80" textLength="147.23" lengthAdjust="spacingAndGlyphs">Anticyclone vorticity amplitude (10</text>
<text x="215.32" y="421.74" textLength="3.71" lengthAdjust="spacingAndGlyphs" style="font-size:6.60px;">5</text>
<text x="219.27" y="424.80" textLength="4.33" lengthAdjust="spacingAndGlyphs" style="font-style:italic;">s</text>
<rect x="224.62" y="419.67" width="3.65" height="0.60" fill="#111"/>
<text x="228.92" y="421.74" textLength="3.71" lengthAdjust="spacingAndGlyphs" style="font-size:6.60px;">1</text>
<text x="232.86" y="424.80" textLength="3.25" lengthAdjust="spacingAndGlyphs">)</text>
<polygon points="293.25,393.40 285.05,397.55 293.25,401.70" fill="#f0eeec"/>
<polygon points="437.75,393.40 445.95,397.55 437.75,401.70" fill="#5a1026"/>
<rect x="292.25" y="393.40" width="146.50" height="8.30" fill="url(#g_amp)"/>
<polygon points="292.25,393.40 438.75,393.40 445.95,397.55 438.75,401.70 292.25,401.70 285.05,397.55" fill="none" stroke="#222" stroke-width="0.7" stroke-linejoin="miter"/>
<line x1="292.25" y1="401.70" x2="292.25" y2="403.90" class="tc"/>
<text x="285.69" y="412.15" textLength="13.28" lengthAdjust="spacingAndGlyphs">2.5</text>
<line x1="365.50" y1="401.70" x2="365.50" y2="403.90" class="tc"/>
<text x="358.93" y="412.15" textLength="13.28" lengthAdjust="spacingAndGlyphs">3.5</text>
<line x1="438.75" y1="401.70" x2="438.75" y2="403.90" class="tc"/>
<text x="432.29" y="412.15" textLength="13.28" lengthAdjust="spacingAndGlyphs">4.5</text>
<text x="282.23" y="424.80" textLength="147.23" lengthAdjust="spacingAndGlyphs">Anticyclone vorticity amplitude (10</text>
<text x="429.57" y="421.74" textLength="3.71" lengthAdjust="spacingAndGlyphs" style="font-size:6.60px;">5</text>
<text x="433.52" y="424.80" textLength="4.33" lengthAdjust="spacingAndGlyphs" style="font-style:italic;">s</text>
<rect x="438.87" y="419.67" width="3.65" height="0.60" fill="#111"/>
<text x="443.17" y="421.74" textLength="3.71" lengthAdjust="spacingAndGlyphs" style="font-size:6.60px;">1</text>
<text x="447.11" y="424.80" textLength="3.25" lengthAdjust="spacingAndGlyphs">)</text>
<polygon points="507.65,393.40 499.45,397.55 507.65,401.70" fill="#202869"/>
<polygon points="652.15,393.40 660.35,397.55 652.15,401.70" fill="#5a1026"/>
<rect x="506.65" y="393.40" width="146.50" height="8.30" fill="url(#g_bal)"/>
<polygon points="506.65,393.40 653.15,393.40 660.35,397.55 653.15,401.70 506.65,401.70 499.45,397.55" fill="none" stroke="#222" stroke-width="0.7" stroke-linejoin="miter"/>
<line x1="513.24" y1="401.70" x2="513.24" y2="403.90" class="tc"/>
<rect x="507.94" y="409.20" width="5.21" height="0.86" fill="#111"/>
<text x="514.07" y="412.15" textLength="5.29" lengthAdjust="spacingAndGlyphs">1</text>
<line x1="579.90" y1="401.70" x2="579.90" y2="403.90" class="tc"/>
<text x="577.26" y="412.15" textLength="5.29" lengthAdjust="spacingAndGlyphs">0</text>
<line x1="646.56" y1="401.70" x2="646.56" y2="403.90" class="tc"/>
<text x="643.84" y="412.15" textLength="5.29" lengthAdjust="spacingAndGlyphs">1</text>
<text x="492.46" y="424.80" textLength="155.62" lengthAdjust="spacingAndGlyphs">Δ Anticyclone vorticity amplitude (10</text>
<text x="648.19" y="421.74" textLength="3.71" lengthAdjust="spacingAndGlyphs" style="font-size:6.60px;">5</text>
<text x="652.14" y="424.80" textLength="4.33" lengthAdjust="spacingAndGlyphs" style="font-style:italic;">s</text>
<rect x="657.49" y="419.67" width="3.65" height="0.60" fill="#111"/>
<text x="661.79" y="421.74" textLength="3.71" lengthAdjust="spacingAndGlyphs" style="font-size:6.60px;">1</text>
<text x="665.74" y="424.80" textLength="3.25" lengthAdjust="spacingAndGlyphs">)</text>
<text x="50.21" y="389.30" textLength="12.88" lengthAdjust="spacingAndGlyphs">Jan</text>
<text x="65.80" y="389.30" textLength="15.25" lengthAdjust="spacingAndGlyphs">Feb</text>
<text x="82.39" y="389.30" textLength="15.78" lengthAdjust="spacingAndGlyphs">Mar</text>
<text x="100.72" y="389.30" textLength="14.47" lengthAdjust="spacingAndGlyphs">Apr</text>
<text x="116.37" y="389.30" textLength="17.28" lengthAdjust="spacingAndGlyphs">May</text>
<text x="136.62" y="389.30" textLength="13.05" lengthAdjust="spacingAndGlyphs">Jun</text>
<text x="155.44" y="389.30" textLength="10.09" lengthAdjust="spacingAndGlyphs">Jul</text>
<text x="169.37" y="389.30" textLength="16.32" lengthAdjust="spacingAndGlyphs">Aug</text>
<text x="186.56" y="389.30" textLength="15.75" lengthAdjust="spacingAndGlyphs">Sep</text>
<text x="204.42" y="389.30" textLength="14.46" lengthAdjust="spacingAndGlyphs">Oct</text>
<text x="220.65" y="389.30" textLength="16.31" lengthAdjust="spacingAndGlyphs">Nov</text>
<text x="238.15" y="389.30" textLength="16.18" lengthAdjust="spacingAndGlyphs">Dec</text>
<text x="264.46" y="389.30" textLength="12.88" lengthAdjust="spacingAndGlyphs">Jan</text>
<text x="280.05" y="389.30" textLength="15.25" lengthAdjust="spacingAndGlyphs">Feb</text>
<text x="296.64" y="389.30" textLength="15.78" lengthAdjust="spacingAndGlyphs">Mar</text>
<text x="314.97" y="389.30" textLength="14.47" lengthAdjust="spacingAndGlyphs">Apr</text>
<text x="330.62" y="389.30" textLength="17.28" lengthAdjust="spacingAndGlyphs">May</text>
<text x="350.87" y="389.30" textLength="13.05" lengthAdjust="spacingAndGlyphs">Jun</text>
<text x="369.69" y="389.30" textLength="10.09" lengthAdjust="spacingAndGlyphs">Jul</text>
<text x="383.62" y="389.30" textLength="16.32" lengthAdjust="spacingAndGlyphs">Aug</text>
<text x="400.81" y="389.30" textLength="15.75" lengthAdjust="spacingAndGlyphs">Sep</text>
<text x="418.67" y="389.30" textLength="14.46" lengthAdjust="spacingAndGlyphs">Oct</text>
<text x="434.90" y="389.30" textLength="16.31" lengthAdjust="spacingAndGlyphs">Nov</text>
<text x="452.40" y="389.30" textLength="16.18" lengthAdjust="spacingAndGlyphs">Dec</text>
<text x="478.86" y="389.30" textLength="12.88" lengthAdjust="spacingAndGlyphs">Jan</text>
<text x="494.45" y="389.30" textLength="15.25" lengthAdjust="spacingAndGlyphs">Feb</text>
<text x="511.04" y="389.30" textLength="15.78" lengthAdjust="spacingAndGlyphs">Mar</text>
<text x="529.37" y="389.30" textLength="14.47" lengthAdjust="spacingAndGlyphs">Apr</text>
<text x="545.02" y="389.30" textLength="17.28" lengthAdjust="spacingAndGlyphs">May</text>
<text x="565.27" y="389.30" textLength="13.05" lengthAdjust="spacingAndGlyphs">Jun</text>
<text x="584.09" y="389.30" textLength="10.09" lengthAdjust="spacingAndGlyphs">Jul</text>
<text x="598.02" y="389.30" textLength="16.32" lengthAdjust="spacingAndGlyphs">Aug</text>
<text x="615.21" y="389.30" textLength="15.75" lengthAdjust="spacingAndGlyphs">Sep</text>
<text x="633.07" y="389.30" textLength="14.46" lengthAdjust="spacingAndGlyphs">Oct</text>
<text x="649.30" y="389.30" textLength="16.31" lengthAdjust="spacingAndGlyphs">Nov</text>
<text x="666.80" y="389.30" textLength="16.18" lengthAdjust="spacingAndGlyphs">Dec</text>
</svg>
</body></html>
